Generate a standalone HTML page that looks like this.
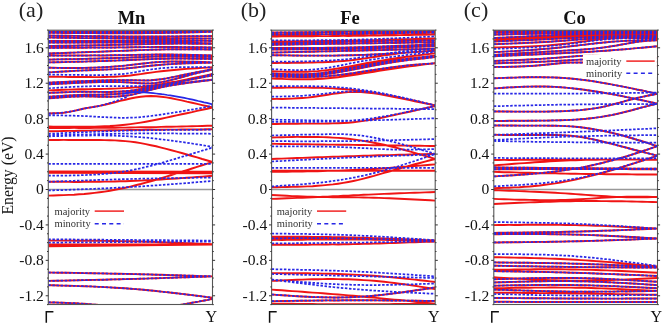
<!DOCTYPE html>
<html><head><meta charset="utf-8"><style>
html,body{margin:0;padding:0;background:#fff;}
body{width:664px;height:327px;overflow:hidden;}
svg{display:block;will-change:transform;}
text{font-family:"Liberation Serif",serif;}
</style></head><body>
<svg width="664" height="327" viewBox="0 0 664 327">
<rect width="664" height="327" fill="#fff"/>

<clipPath id="clipa"><rect x="48.3" y="30.2" width="164.2" height="274.3"/></clipPath>
<line x1="48.3" y1="189.50" x2="212.5" y2="189.50" stroke="#999" stroke-width="1.3"/>
<g clip-path="url(#clipa)" fill="none">
<path d="M48.3,31.5 L53.4,31.5 L58.6,31.5 L63.7,31.5 L68.8,31.5 L74.0,31.5 L79.1,31.5 L84.2,31.5 L89.3,31.5 L94.5,31.5 L99.6,31.5 L104.7,31.5 L109.9,31.5 L115.0,31.5 L120.1,31.4 L125.3,31.4 L130.4,31.4 L135.5,31.4 L140.7,31.3 L145.8,31.3 L150.9,31.3 L156.1,31.2 L161.2,31.2 L166.3,31.2 L171.4,31.1 L176.6,31.1 L181.7,31.0 L186.8,31.0 L192.0,31.0 L197.1,30.9 L202.2,30.9 L207.4,30.8 L212.5,30.8 M48.3,32.8 L53.4,32.8 L58.6,32.9 L63.7,32.9 L68.8,33.0 L74.0,33.0 L79.1,33.0 L84.2,33.1 L89.3,33.1 L94.5,33.1 L99.6,33.2 L104.7,33.2 L109.9,33.2 L115.0,33.2 L120.1,33.2 L125.3,33.2 L130.4,33.2 L135.5,33.2 L140.7,33.2 L145.8,33.1 L150.9,33.1 L156.1,33.0 L161.2,33.0 L166.3,32.9 L171.4,32.8 L176.6,32.7 L181.7,32.6 L186.8,32.5 L192.0,32.4 L197.1,32.2 L202.2,32.1 L207.4,31.9 L212.5,31.8 M48.3,35.5 L53.4,35.6 L58.6,35.7 L63.7,35.7 L68.8,35.8 L74.0,35.9 L79.1,36.0 L84.2,36.1 L89.3,36.1 L94.5,36.2 L99.6,36.2 L104.7,36.3 L109.9,36.4 L115.0,36.4 L120.1,36.4 L125.3,36.5 L130.4,36.5 L135.5,36.5 L140.7,36.5 L145.8,36.5 L150.9,36.5 L156.1,36.5 L161.2,36.5 L166.3,36.5 L171.4,36.4 L176.6,36.4 L181.7,36.3 L186.8,36.3 L192.0,36.2 L197.1,36.2 L202.2,36.1 L207.4,36.1 L212.5,36.0 M48.3,37.5 L53.4,37.6 L58.6,37.7 L63.7,37.8 L68.8,37.8 L74.0,37.9 L79.1,38.0 L84.2,38.1 L89.3,38.1 L94.5,38.2 L99.6,38.3 L104.7,38.3 L109.9,38.4 L115.0,38.4 L120.1,38.5 L125.3,38.5 L130.4,38.5 L135.5,38.5 L140.7,38.5 L145.8,38.5 L150.9,38.5 L156.1,38.5 L161.2,38.5 L166.3,38.5 L171.4,38.5 L176.6,38.5 L181.7,38.5 L186.8,38.5 L192.0,38.5 L197.1,38.5 L202.2,38.5 L207.4,38.5 L212.5,38.5 M48.3,41.0 L53.4,41.0 L58.6,41.0 L63.7,41.0 L68.8,41.0 L74.0,41.0 L79.1,41.0 L84.2,41.0 L89.3,41.0 L94.5,41.0 L99.6,41.0 L104.7,41.0 L109.9,41.0 L115.0,40.9 L120.1,40.9 L125.3,40.9 L130.4,40.8 L135.5,40.7 L140.7,40.7 L145.8,40.6 L150.9,40.6 L156.1,40.5 L161.2,40.5 L166.3,40.5 L171.4,40.5 L176.6,40.5 L181.7,40.6 L186.8,40.6 L192.0,40.7 L197.1,40.8 L202.2,40.8 L207.4,40.9 L212.5,41.0 M48.3,42.5 L53.4,42.5 L58.6,42.5 L63.7,42.5 L68.8,42.6 L74.0,42.6 L79.1,42.6 L84.2,42.6 L89.3,42.6 L94.5,42.6 L99.6,42.5 L104.7,42.5 L109.9,42.5 L115.0,42.5 L120.1,42.4 L125.3,42.4 L130.4,42.3 L135.5,42.2 L140.7,42.2 L145.8,42.1 L150.9,42.0 L156.1,42.0 L161.2,42.0 L166.3,42.0 L171.4,42.1 L176.6,42.2 L181.7,42.4 L186.8,42.5 L192.0,42.7 L197.1,42.9 L202.2,43.1 L207.4,43.3 L212.5,43.5 M48.3,46.0 L53.4,45.9 L58.6,45.8 L63.7,45.8 L68.8,45.7 L74.0,45.6 L79.1,45.5 L84.2,45.4 L89.3,45.4 L94.5,45.3 L99.6,45.2 L104.7,45.1 L109.9,45.0 L115.0,44.9 L120.1,44.7 L125.3,44.6 L130.4,44.5 L135.5,44.4 L140.7,44.2 L145.8,44.1 L150.9,44.0 L156.1,43.9 L161.2,43.8 L166.3,43.7 L171.4,43.7 L176.6,43.6 L181.7,43.6 L186.8,43.6 L192.0,43.7 L197.1,43.7 L202.2,43.7 L207.4,43.8 L212.5,43.8 M48.3,47.8 L53.4,47.8 L58.6,47.8 L63.7,47.7 L68.8,47.7 L74.0,47.7 L79.1,47.7 L84.2,47.7 L89.3,47.6 L94.5,47.6 L99.6,47.6 L104.7,47.5 L109.9,47.5 L115.0,47.5 L120.1,47.4 L125.3,47.4 L130.4,47.3 L135.5,47.2 L140.7,47.2 L145.8,47.1 L150.9,47.1 L156.1,47.0 L161.2,47.0 L166.3,47.0 L171.4,47.0 L176.6,47.0 L181.7,47.1 L186.8,47.1 L192.0,47.2 L197.1,47.3 L202.2,47.3 L207.4,47.4 L212.5,47.5 M48.3,53.5 L53.4,53.3 L58.6,53.1 L63.7,53.0 L68.8,52.8 L74.0,52.6 L79.1,52.4 L84.2,52.2 L89.3,52.0 L94.5,51.9 L99.6,51.7 L104.7,51.5 L109.9,51.3 L115.0,51.1 L120.1,50.9 L125.3,50.7 L130.4,50.5 L135.5,50.3 L140.7,50.1 L145.8,49.9 L150.9,49.7 L156.1,49.6 L161.2,49.5 L166.3,49.4 L171.4,49.3 L176.6,49.3 L181.7,49.3 L186.8,49.3 L192.0,49.3 L197.1,49.3 L202.2,49.4 L207.4,49.4 L212.5,49.5 M48.3,55.5 L53.4,55.5 L58.6,55.5 L63.7,55.5 L68.8,55.5 L74.0,55.5 L79.1,55.5 L84.2,55.5 L89.3,55.5 L94.5,55.4 L99.6,55.4 L104.7,55.4 L109.9,55.3 L115.0,55.2 L120.1,55.2 L125.3,55.1 L130.4,55.0 L135.5,54.9 L140.7,54.8 L145.8,54.7 L150.9,54.6 L156.1,54.5 L161.2,54.5 L166.3,54.5 L171.4,54.5 L176.6,54.6 L181.7,54.7 L186.8,54.8 L192.0,54.9 L197.1,55.0 L202.2,55.2 L207.4,55.3 L212.5,55.5 M48.3,59.6 L53.4,59.5 L58.6,59.4 L63.7,59.3 L68.8,59.2 L74.0,59.1 L79.1,59.0 L84.2,58.9 L89.3,58.7 L94.5,58.6 L99.6,58.5 L104.7,58.3 L109.9,58.2 L115.0,58.0 L120.1,57.9 L125.3,57.7 L130.4,57.5 L135.5,57.3 L140.7,57.1 L145.8,56.9 L150.9,56.7 L156.1,56.6 L161.2,56.5 L166.3,56.4 L171.4,56.4 L176.6,56.4 L181.7,56.4 L186.8,56.5 L192.0,56.6 L197.1,56.6 L202.2,56.8 L207.4,56.9 L212.5,57.0 M48.3,62.4 L53.4,62.3 L58.6,62.2 L63.7,62.1 L68.8,61.9 L74.0,61.8 L79.1,61.7 L84.2,61.6 L89.3,61.4 L94.5,61.3 L99.6,61.1 L104.7,61.0 L109.9,60.8 L115.0,60.6 L120.1,60.4 L125.3,60.2 L130.4,60.0 L135.5,59.8 L140.7,59.5 L145.8,59.3 L150.9,59.1 L156.1,58.9 L161.2,58.8 L166.3,58.7 L171.4,58.6 L176.6,58.6 L181.7,58.6 L186.8,58.6 L192.0,58.7 L197.1,58.7 L202.2,58.8 L207.4,58.9 L212.5,59.0 M48.3,67.7 L53.4,67.8 L58.6,67.9 L63.7,67.9 L68.8,68.0 L74.0,68.0 L79.1,68.0 L84.2,67.9 L89.3,67.8 L94.5,67.6 L99.6,67.4 L104.7,67.2 L109.9,66.9 L115.0,66.5 L120.1,66.1 L125.3,65.6 L130.4,65.0 L135.5,64.4 L140.7,63.8 L145.8,63.2 L150.9,62.6 L156.1,62.2 L161.2,61.9 L166.3,61.7 L171.4,61.5 L176.6,61.5 L181.7,61.5 L186.8,61.6 L192.0,61.7 L197.1,61.8 L202.2,62.0 L207.4,62.2 L212.5,62.4 M48.3,72.4 L53.4,72.1 L58.6,71.8 L63.7,71.5 L68.8,71.2 L74.0,70.9 L79.1,70.6 L84.2,70.4 L89.3,70.2 L94.5,70.0 L99.6,69.8 L104.7,69.6 L109.9,69.4 L115.0,69.1 L120.1,68.8 L125.3,68.5 L130.4,68.0 L135.5,67.5 L140.7,66.9 L145.8,66.3 L150.9,65.7 L156.1,65.2 L161.2,64.8 L166.3,64.4 L171.4,64.1 L176.6,63.8 L181.7,63.5 L186.8,63.3 L192.0,63.2 L197.1,63.0 L202.2,62.9 L207.4,62.7 L212.5,62.6 M48.3,76.8 L53.4,76.8 L58.6,76.8 L63.7,76.9 L68.8,76.9 L74.0,76.9 L79.1,77.0 L84.2,77.0 L89.3,77.0 L94.5,77.1 L99.6,77.1 L104.7,77.0 L109.9,76.9 L115.0,76.7 L120.1,76.4 L125.3,76.0 L130.4,75.5 L135.5,74.8 L140.7,74.1 L145.8,73.3 L150.9,72.6 L156.1,71.9 L161.2,71.3 L166.3,70.7 L171.4,70.2 L176.6,69.7 L181.7,69.3 L186.8,68.9 L192.0,68.6 L197.1,68.2 L202.2,67.9 L207.4,67.6 L212.5,67.3 M48.3,82.6 L53.4,82.4 L58.6,82.2 L63.7,82.0 L68.8,81.7 L74.0,81.5 L79.1,81.3 L84.2,81.1 L89.3,80.9 L94.5,80.7 L99.6,80.5 L104.7,80.4 L109.9,80.2 L115.0,80.2 L120.1,80.1 L125.3,80.1 L130.4,80.2 L135.5,80.3 L140.7,80.4 L145.8,80.4 L150.9,80.3 L156.1,79.8 L161.2,79.2 L166.3,78.4 L171.4,77.4 L176.6,76.4 L181.7,75.3 L186.8,74.2 L192.0,73.2 L197.1,72.2 L202.2,71.2 L207.4,70.2 L212.5,69.3 M48.3,84.4 L53.4,84.1 L58.6,83.8 L63.7,83.6 L68.8,83.3 L74.0,83.1 L79.1,82.8 L84.2,82.6 L89.3,82.4 L94.5,82.2 L99.6,82.1 L104.7,82.0 L109.9,82.0 L115.0,82.0 L120.1,82.1 L125.3,82.3 L130.4,82.6 L135.5,83.0 L140.7,83.3 L145.8,83.5 L150.9,83.4 L156.1,82.9 L161.2,82.1 L166.3,81.1 L171.4,79.9 L176.6,78.6 L181.7,77.2 L186.8,75.8 L192.0,74.4 L197.1,73.1 L202.2,71.9 L207.4,70.7 L212.5,69.5 M48.3,90.4 L53.4,90.2 L58.6,90.0 L63.7,89.8 L68.8,89.6 L74.0,89.5 L79.1,89.3 L84.2,89.2 L89.3,89.1 L94.5,89.0 L99.6,89.0 L104.7,88.9 L109.9,88.8 L115.0,88.6 L120.1,88.4 L125.3,88.1 L130.4,87.8 L135.5,87.4 L140.7,86.9 L145.8,86.3 L150.9,85.6 L156.1,84.9 L161.2,84.1 L166.3,83.2 L171.4,82.3 L176.6,81.4 L181.7,80.4 L186.8,79.4 L192.0,78.3 L197.1,77.3 L202.2,76.2 L207.4,75.1 L212.5,74.0 M48.3,92.9 L53.4,92.7 L58.6,92.5 L63.7,92.3 L68.8,92.1 L74.0,91.9 L79.1,91.8 L84.2,91.8 L89.3,91.8 L94.5,91.8 L99.6,91.9 L104.7,91.9 L109.9,91.9 L115.0,91.7 L120.1,91.5 L125.3,91.1 L130.4,90.6 L135.5,89.9 L140.7,89.0 L145.8,88.0 L150.9,87.0 L156.1,86.0 L161.2,85.1 L166.3,84.1 L171.4,83.1 L176.6,82.1 L181.7,81.2 L186.8,80.2 L192.0,79.3 L197.1,78.3 L202.2,77.4 L207.4,76.4 L212.5,75.5 M48.3,96.8 L53.4,96.4 L58.6,96.1 L63.7,95.8 L68.8,95.5 L74.0,95.2 L79.1,95.0 L84.2,94.8 L89.3,94.7 L94.5,94.6 L99.6,94.6 L104.7,94.5 L109.9,94.3 L115.0,94.1 L120.1,93.7 L125.3,93.2 L130.4,92.5 L135.5,91.6 L140.7,90.5 L145.8,89.4 L150.9,88.3 L156.1,87.3 L161.2,86.4 L166.3,85.5 L171.4,84.7 L176.6,83.9 L181.7,83.3 L186.8,82.6 L192.0,82.0 L197.1,81.4 L202.2,80.8 L207.4,80.3 L212.5,79.7 M48.3,98.4 L53.4,98.0 L58.6,97.6 L63.7,97.2 L68.8,96.9 L74.0,96.6 L79.1,96.5 L84.2,96.4 L89.3,96.4 L94.5,96.5 L99.6,96.7 L104.7,96.7 L109.9,96.8 L115.0,96.6 L120.1,96.3 L125.3,95.8 L130.4,95.0 L135.5,93.9 L140.7,92.6 L145.8,91.2 L150.9,89.8 L156.1,88.5 L161.2,87.4 L166.3,86.3 L171.4,85.4 L176.6,84.5 L181.7,83.7 L186.8,83.0 L192.0,82.3 L197.1,81.7 L202.2,81.1 L207.4,80.5 L212.5,79.9 M48.3,113.5 L53.4,113.3 L58.6,113.1 L63.7,112.7 L68.8,111.9 L74.0,110.9 L79.1,109.7 L84.2,108.5 L89.3,107.6 L94.5,106.8 L99.6,105.9 L104.7,104.8 L109.9,103.5 L115.0,102.2 L120.1,100.9 L125.3,99.7 L130.4,98.5 L135.5,97.5 L140.7,96.7 L145.8,96.3 L150.9,96.1 L156.1,96.3 L161.2,96.7 L166.3,97.4 L171.4,98.3 L176.6,99.4 L181.7,100.4 L186.8,101.6 L192.0,102.7 L197.1,103.9 L202.2,105.1 L207.4,106.3 L212.5,107.5 M48.3,126.5 L53.4,126.6 L58.6,126.6 L63.7,126.7 L68.8,126.8 L74.0,126.8 L79.1,126.8 L84.2,126.8 L89.3,126.7 L94.5,126.6 L99.6,126.4 L104.7,126.2 L109.9,126.0 L115.0,125.6 L120.1,125.2 L125.3,124.7 L130.4,124.1 L135.5,123.4 L140.7,122.6 L145.8,121.7 L150.9,120.7 L156.1,119.7 L161.2,118.7 L166.3,117.6 L171.4,116.5 L176.6,115.4 L181.7,114.3 L186.8,113.2 L192.0,112.1 L197.1,110.9 L202.2,109.8 L207.4,108.7 L212.5,107.6 M48.3,128.0 L53.4,128.0 L58.6,128.0 L63.7,128.0 L68.8,128.0 L74.0,127.9 L79.1,127.9 L84.2,127.9 L89.3,127.9 L94.5,127.8 L99.6,127.8 L104.7,127.8 L109.9,127.7 L115.0,127.7 L120.1,127.6 L125.3,127.6 L130.4,127.5 L135.5,127.4 L140.7,127.3 L145.8,127.3 L150.9,127.2 L156.1,127.1 L161.2,126.9 L166.3,126.8 L171.4,126.7 L176.6,126.6 L181.7,126.5 L186.8,126.4 L192.0,126.2 L197.1,126.1 L202.2,126.0 L207.4,125.8 L212.5,125.7 M48.3,131.3 L53.4,131.2 L58.6,131.1 L63.7,131.0 L68.8,130.9 L74.0,130.9 L79.1,130.8 L84.2,130.7 L89.3,130.6 L94.5,130.5 L99.6,130.4 L104.7,130.4 L109.9,130.3 L115.0,130.2 L120.1,130.1 L125.3,130.1 L130.4,130.0 L135.5,129.9 L140.7,129.9 L145.8,129.8 L150.9,129.8 L156.1,129.7 L161.2,129.7 L166.3,129.6 L171.4,129.6 L176.6,129.6 L181.7,129.5 L186.8,129.5 L192.0,129.4 L197.1,129.4 L202.2,129.4 L207.4,129.3 L212.5,129.3 M48.3,140.0 L53.4,140.0 L58.6,140.0 L63.7,139.9 L68.8,139.9 L74.0,139.9 L79.1,139.9 L84.2,139.9 L89.3,139.9 L94.5,140.0 L99.6,140.0 L104.7,140.1 L109.9,140.2 L115.0,140.4 L120.1,140.7 L125.3,141.1 L130.4,141.6 L135.5,142.3 L140.7,143.1 L145.8,144.1 L150.9,145.2 L156.1,146.3 L161.2,147.6 L166.3,148.9 L171.4,150.2 L176.6,151.6 L181.7,153.0 L186.8,154.5 L192.0,156.0 L197.1,157.4 L202.2,159.0 L207.4,160.5 L212.5,162.0 M48.3,171.5 L212.5,171.7 M48.3,172.9 L212.5,173.3 M48.3,181.8 L53.4,181.8 L58.6,181.8 L63.7,181.8 L68.8,181.9 L74.0,181.9 L79.1,181.9 L84.2,181.8 L89.3,181.8 L94.5,181.8 L99.6,181.7 L104.7,181.6 L109.9,181.6 L115.0,181.5 L120.1,181.3 L125.3,181.2 L130.4,181.0 L135.5,180.8 L140.7,180.6 L145.8,180.3 L150.9,180.1 L156.1,179.8 L161.2,179.5 L166.3,179.1 L171.4,178.8 L176.6,178.5 L181.7,178.1 L186.8,177.7 L192.0,177.4 L197.1,177.0 L202.2,176.6 L207.4,176.2 L212.5,175.8 M48.3,195.6 L53.4,195.5 L58.6,195.3 L63.7,195.1 L68.8,194.9 L74.0,194.7 L79.1,194.3 L84.2,194.0 L89.3,193.5 L94.5,192.9 L99.6,192.3 L104.7,191.6 L109.9,190.8 L115.0,189.8 L120.1,188.8 L125.3,187.8 L130.4,186.6 L135.5,185.3 L140.7,184.0 L145.8,182.6 L150.9,181.2 L156.1,179.7 L161.2,178.2 L166.3,176.6 L171.4,175.0 L176.6,173.4 L181.7,171.8 L186.8,170.2 L192.0,168.5 L197.1,166.9 L202.2,165.3 L207.4,163.6 L212.5,162.0 M48.3,240.6 L53.4,240.6 L58.6,240.6 L63.7,240.6 L68.8,240.6 L74.0,240.7 L79.1,240.7 L84.2,240.7 L89.3,240.7 L94.5,240.8 L99.6,240.8 L104.7,240.9 L109.9,240.9 L115.0,241.0 L120.1,241.1 L125.3,241.2 L130.4,241.3 L135.5,241.4 L140.7,241.5 L145.8,241.7 L150.9,241.8 L156.1,242.0 L161.2,242.2 L166.3,242.4 L171.4,242.5 L176.6,242.7 L181.7,242.9 L186.8,243.1 L192.0,243.3 L197.1,243.6 L202.2,243.8 L207.4,244.0 L212.5,244.2 M48.3,244.5 L212.5,244.2 M48.3,246.2 L212.5,244.6 M48.3,272.5 L53.4,272.6 L58.6,272.7 L63.7,272.7 L68.8,272.8 L74.0,272.9 L79.1,273.0 L84.2,273.1 L89.3,273.2 L94.5,273.3 L99.6,273.4 L104.7,273.4 L109.9,273.6 L115.0,273.7 L120.1,273.8 L125.3,273.9 L130.4,274.0 L135.5,274.1 L140.7,274.3 L145.8,274.4 L150.9,274.5 L156.1,274.7 L161.2,274.8 L166.3,275.0 L171.4,275.1 L176.6,275.3 L181.7,275.4 L186.8,275.6 L192.0,275.7 L197.1,275.9 L202.2,276.1 L207.4,276.2 L212.5,276.4 M48.3,280.9 L53.4,280.8 L58.6,280.7 L63.7,280.6 L68.8,280.5 L74.0,280.4 L79.1,280.2 L84.2,280.1 L89.3,280.0 L94.5,279.9 L99.6,279.8 L104.7,279.7 L109.9,279.5 L115.0,279.4 L120.1,279.3 L125.3,279.1 L130.4,279.0 L135.5,278.9 L140.7,278.7 L145.8,278.6 L150.9,278.4 L156.1,278.3 L161.2,278.1 L166.3,277.9 L171.4,277.8 L176.6,277.6 L181.7,277.4 L186.8,277.3 L192.0,277.1 L197.1,276.9 L202.2,276.7 L207.4,276.6 L212.5,276.4 M48.3,285.2 L53.4,285.3 L58.6,285.5 L63.7,285.6 L68.8,285.8 L74.0,285.9 L79.1,286.1 L84.2,286.2 L89.3,286.4 L94.5,286.6 L99.6,286.9 L104.7,287.1 L109.9,287.4 L115.0,287.7 L120.1,288.0 L125.3,288.3 L130.4,288.7 L135.5,289.1 L140.7,289.5 L145.8,290.0 L150.9,290.5 L156.1,291.0 L161.2,291.6 L166.3,292.1 L171.4,292.7 L176.6,293.3 L181.7,293.9 L186.8,294.5 L192.0,295.1 L197.1,295.8 L202.2,296.4 L207.4,297.1 L212.5,297.7 M48.3,302.3 L50.9,302.4 L53.4,302.4 L56.0,302.5 L58.6,302.6 L61.1,302.7 L63.7,302.8 L66.3,302.9 L68.8,303.0 L71.4,303.1 L74.0,303.2 L76.5,303.3 L79.1,303.5 L81.7,303.6 L84.2,303.8 L86.8,304.0 L89.3,304.2 L91.9,304.4 L94.5,304.6 L97.0,304.8 L99.6,305.1 L102.2,305.3 L104.7,305.6 L107.3,305.9 L109.9,306.2 L112.4,306.6 L115.0,306.9 L117.6,307.2 L120.1,307.6 L122.7,307.9 L125.3,308.3 L127.8,308.6 L130.4,309.0 M138.6,312.0 L140.9,311.6 L143.2,311.2 L145.5,310.8 L147.8,310.5 L150.2,310.1 L152.5,309.7 L154.8,309.3 L157.1,308.9 L159.4,308.5 L161.7,308.1 L164.0,307.7 L166.3,307.3 L168.6,306.9 L170.9,306.5 L173.2,306.1 L175.6,305.7 L177.9,305.3 L180.2,304.9 L182.5,304.5 L184.8,304.1 L187.1,303.7 L189.4,303.3 L191.7,302.8 L194.0,302.4 L196.3,302.0 L198.6,301.6 L201.0,301.1 L203.3,300.7 L205.6,300.3 L207.9,299.9 L210.2,299.4 L212.5,299.0" stroke="#f01414" stroke-width="1.95"/>
<path d="M48.3,31.5 L53.4,31.5 L58.6,31.5 L63.7,31.5 L68.8,31.5 L74.0,31.5 L79.1,31.5 L84.2,31.5 L89.3,31.5 L94.5,31.5 L99.6,31.5 L104.7,31.5 L109.9,31.5 L115.0,31.5 L120.1,31.4 L125.3,31.4 L130.4,31.4 L135.5,31.4 L140.7,31.3 L145.8,31.3 L150.9,31.3 L156.1,31.2 L161.2,31.2 L166.3,31.2 L171.4,31.1 L176.6,31.1 L181.7,31.0 L186.8,31.0 L192.0,31.0 L197.1,30.9 L202.2,30.9 L207.4,30.8 L212.5,30.8 M48.3,32.8 L53.4,32.8 L58.6,32.9 L63.7,32.9 L68.8,33.0 L74.0,33.0 L79.1,33.0 L84.2,33.1 L89.3,33.1 L94.5,33.1 L99.6,33.2 L104.7,33.2 L109.9,33.2 L115.0,33.2 L120.1,33.2 L125.3,33.2 L130.4,33.2 L135.5,33.2 L140.7,33.2 L145.8,33.1 L150.9,33.1 L156.1,33.0 L161.2,33.0 L166.3,32.9 L171.4,32.8 L176.6,32.7 L181.7,32.6 L186.8,32.5 L192.0,32.4 L197.1,32.2 L202.2,32.1 L207.4,31.9 L212.5,31.8 M48.3,35.5 L53.4,35.6 L58.6,35.7 L63.7,35.7 L68.8,35.8 L74.0,35.9 L79.1,36.0 L84.2,36.1 L89.3,36.1 L94.5,36.2 L99.6,36.2 L104.7,36.3 L109.9,36.4 L115.0,36.4 L120.1,36.4 L125.3,36.5 L130.4,36.5 L135.5,36.5 L140.7,36.5 L145.8,36.5 L150.9,36.5 L156.1,36.5 L161.2,36.5 L166.3,36.5 L171.4,36.4 L176.6,36.4 L181.7,36.3 L186.8,36.3 L192.0,36.2 L197.1,36.2 L202.2,36.1 L207.4,36.1 L212.5,36.0 M48.3,37.5 L53.4,37.6 L58.6,37.7 L63.7,37.8 L68.8,37.8 L74.0,37.9 L79.1,38.0 L84.2,38.1 L89.3,38.1 L94.5,38.2 L99.6,38.3 L104.7,38.3 L109.9,38.4 L115.0,38.4 L120.1,38.5 L125.3,38.5 L130.4,38.5 L135.5,38.5 L140.7,38.5 L145.8,38.5 L150.9,38.5 L156.1,38.5 L161.2,38.5 L166.3,38.5 L171.4,38.5 L176.6,38.5 L181.7,38.5 L186.8,38.5 L192.0,38.5 L197.1,38.5 L202.2,38.5 L207.4,38.5 L212.5,38.5 M48.3,41.0 L53.4,41.0 L58.6,41.0 L63.7,41.0 L68.8,41.0 L74.0,41.0 L79.1,41.0 L84.2,41.0 L89.3,41.0 L94.5,41.0 L99.6,41.0 L104.7,41.0 L109.9,41.0 L115.0,40.9 L120.1,40.9 L125.3,40.9 L130.4,40.8 L135.5,40.7 L140.7,40.7 L145.8,40.6 L150.9,40.6 L156.1,40.5 L161.2,40.5 L166.3,40.5 L171.4,40.5 L176.6,40.5 L181.7,40.6 L186.8,40.6 L192.0,40.7 L197.1,40.8 L202.2,40.8 L207.4,40.9 L212.5,41.0 M48.3,42.5 L53.4,42.5 L58.6,42.5 L63.7,42.5 L68.8,42.6 L74.0,42.6 L79.1,42.6 L84.2,42.6 L89.3,42.6 L94.5,42.6 L99.6,42.5 L104.7,42.5 L109.9,42.5 L115.0,42.5 L120.1,42.4 L125.3,42.4 L130.4,42.3 L135.5,42.2 L140.7,42.2 L145.8,42.1 L150.9,42.0 L156.1,42.0 L161.2,42.0 L166.3,42.0 L171.4,42.1 L176.6,42.2 L181.7,42.4 L186.8,42.5 L192.0,42.7 L197.1,42.9 L202.2,43.1 L207.4,43.3 L212.5,43.5 M48.3,46.0 L53.4,45.9 L58.6,45.8 L63.7,45.8 L68.8,45.7 L74.0,45.6 L79.1,45.5 L84.2,45.4 L89.3,45.4 L94.5,45.3 L99.6,45.2 L104.7,45.1 L109.9,45.0 L115.0,44.9 L120.1,44.7 L125.3,44.6 L130.4,44.5 L135.5,44.4 L140.7,44.2 L145.8,44.1 L150.9,44.0 L156.1,43.9 L161.2,43.8 L166.3,43.7 L171.4,43.7 L176.6,43.6 L181.7,43.6 L186.8,43.6 L192.0,43.7 L197.1,43.7 L202.2,43.7 L207.4,43.8 L212.5,43.8 M48.3,47.8 L53.4,47.8 L58.6,47.8 L63.7,47.7 L68.8,47.7 L74.0,47.7 L79.1,47.7 L84.2,47.7 L89.3,47.6 L94.5,47.6 L99.6,47.6 L104.7,47.5 L109.9,47.5 L115.0,47.5 L120.1,47.4 L125.3,47.4 L130.4,47.3 L135.5,47.2 L140.7,47.2 L145.8,47.1 L150.9,47.1 L156.1,47.0 L161.2,47.0 L166.3,47.0 L171.4,47.0 L176.6,47.0 L181.7,47.1 L186.8,47.1 L192.0,47.2 L197.1,47.3 L202.2,47.3 L207.4,47.4 L212.5,47.5 M48.3,53.5 L53.4,53.3 L58.6,53.1 L63.7,53.0 L68.8,52.8 L74.0,52.6 L79.1,52.4 L84.2,52.2 L89.3,52.0 L94.5,51.9 L99.6,51.7 L104.7,51.5 L109.9,51.3 L115.0,51.1 L120.1,50.9 L125.3,50.7 L130.4,50.5 L135.5,50.3 L140.7,50.1 L145.8,49.9 L150.9,49.7 L156.1,49.6 L161.2,49.5 L166.3,49.4 L171.4,49.3 L176.6,49.3 L181.7,49.3 L186.8,49.3 L192.0,49.3 L197.1,49.3 L202.2,49.4 L207.4,49.4 L212.5,49.5 M48.3,55.5 L53.4,55.5 L58.6,55.5 L63.7,55.5 L68.8,55.5 L74.0,55.5 L79.1,55.5 L84.2,55.5 L89.3,55.5 L94.5,55.4 L99.6,55.4 L104.7,55.4 L109.9,55.3 L115.0,55.2 L120.1,55.2 L125.3,55.1 L130.4,55.0 L135.5,54.9 L140.7,54.8 L145.8,54.7 L150.9,54.6 L156.1,54.5 L161.2,54.5 L166.3,54.5 L171.4,54.5 L176.6,54.6 L181.7,54.7 L186.8,54.8 L192.0,54.9 L197.1,55.0 L202.2,55.2 L207.4,55.3 L212.5,55.5 M48.3,59.6 L53.4,59.5 L58.6,59.4 L63.7,59.3 L68.8,59.2 L74.0,59.1 L79.1,59.0 L84.2,58.9 L89.3,58.7 L94.5,58.6 L99.6,58.5 L104.7,58.3 L109.9,58.2 L115.0,58.0 L120.1,57.9 L125.3,57.7 L130.4,57.5 L135.5,57.3 L140.7,57.1 L145.8,56.9 L150.9,56.7 L156.1,56.6 L161.2,56.5 L166.3,56.4 L171.4,56.4 L176.6,56.4 L181.7,56.4 L186.8,56.5 L192.0,56.6 L197.1,56.6 L202.2,56.8 L207.4,56.9 L212.5,57.0 M48.3,62.4 L53.4,62.3 L58.6,62.2 L63.7,62.1 L68.8,61.9 L74.0,61.8 L79.1,61.7 L84.2,61.6 L89.3,61.4 L94.5,61.3 L99.6,61.1 L104.7,61.0 L109.9,60.8 L115.0,60.6 L120.1,60.4 L125.3,60.2 L130.4,60.0 L135.5,59.8 L140.7,59.5 L145.8,59.3 L150.9,59.1 L156.1,58.9 L161.2,58.8 L166.3,58.7 L171.4,58.6 L176.6,58.6 L181.7,58.6 L186.8,58.6 L192.0,58.7 L197.1,58.7 L202.2,58.8 L207.4,58.9 L212.5,59.0 M48.3,67.7 L53.4,67.8 L58.6,67.9 L63.7,67.9 L68.8,68.0 L74.0,68.0 L79.1,68.0 L84.2,67.9 L89.3,67.8 L94.5,67.6 L99.6,67.4 L104.7,67.2 L109.9,66.9 L115.0,66.5 L120.1,66.1 L125.3,65.6 L130.4,65.0 L135.5,64.4 L140.7,63.8 L145.8,63.2 L150.9,62.6 L156.1,62.2 L161.2,61.9 L166.3,61.7 L171.4,61.5 L176.6,61.5 L181.7,61.5 L186.8,61.6 L192.0,61.7 L197.1,61.8 L202.2,62.0 L207.4,62.2 L212.5,62.4 M48.3,72.4 L53.4,72.1 L58.6,71.8 L63.7,71.5 L68.8,71.2 L74.0,70.9 L79.1,70.6 L84.2,70.4 L89.3,70.2 L94.5,70.0 L99.6,69.8 L104.7,69.6 L109.9,69.4 L115.0,69.1 L120.1,68.8 L125.3,68.5 L130.4,68.0 L135.5,67.5 L140.7,66.9 L145.8,66.3 L150.9,65.7 L156.1,65.2 L161.2,64.8 L166.3,64.4 L171.4,64.1 L176.6,63.8 L181.7,63.5 L186.8,63.3 L192.0,63.2 L197.1,63.0 L202.2,62.9 L207.4,62.7 L212.5,62.6 M48.3,74.6 L53.4,74.7 L58.6,74.7 L63.7,74.8 L68.8,74.8 L74.0,74.9 L79.1,74.9 L84.2,75.0 L89.3,75.0 L94.5,75.1 L99.6,75.1 L104.7,75.0 L109.9,74.8 L115.0,74.6 L120.1,74.2 L125.3,73.7 L130.4,73.0 L135.5,72.2 L140.7,71.2 L145.8,70.3 L150.9,69.5 L156.1,68.8 L161.2,68.2 L166.3,67.8 L171.4,67.4 L176.6,67.2 L181.7,67.0 L186.8,67.0 L192.0,67.0 L197.1,67.0 L202.2,67.1 L207.4,67.2 L212.5,67.3 M48.3,82.6 L53.4,82.4 L58.6,82.2 L63.7,82.0 L68.8,81.7 L74.0,81.5 L79.1,81.3 L84.2,81.1 L89.3,80.9 L94.5,80.7 L99.6,80.5 L104.7,80.4 L109.9,80.2 L115.0,80.2 L120.1,80.1 L125.3,80.1 L130.4,80.2 L135.5,80.3 L140.7,80.4 L145.8,80.4 L150.9,80.3 L156.1,79.8 L161.2,79.2 L166.3,78.4 L171.4,77.4 L176.6,76.4 L181.7,75.3 L186.8,74.2 L192.0,73.2 L197.1,72.2 L202.2,71.2 L207.4,70.2 L212.5,69.3 M48.3,84.4 L53.4,84.1 L58.6,83.8 L63.7,83.6 L68.8,83.3 L74.0,83.1 L79.1,82.8 L84.2,82.6 L89.3,82.4 L94.5,82.2 L99.6,82.1 L104.7,82.0 L109.9,82.0 L115.0,82.0 L120.1,82.1 L125.3,82.3 L130.4,82.6 L135.5,83.0 L140.7,83.3 L145.8,83.5 L150.9,83.4 L156.1,82.9 L161.2,82.1 L166.3,81.1 L171.4,79.9 L176.6,78.6 L181.7,77.2 L186.8,75.8 L192.0,74.4 L197.1,73.1 L202.2,71.9 L207.4,70.7 L212.5,69.5 M48.3,88.3 L53.4,88.0 L58.6,87.7 L63.7,87.4 L68.8,87.1 L74.0,86.8 L79.1,86.6 L84.2,86.4 L89.3,86.3 L94.5,86.1 L99.6,86.1 L104.7,86.0 L109.9,86.0 L115.0,86.0 L120.1,86.0 L125.3,86.0 L130.4,86.0 L135.5,86.0 L140.7,86.0 L145.8,85.9 L150.9,85.7 L156.1,85.3 L161.2,84.7 L166.3,84.0 L171.4,83.2 L176.6,82.3 L181.7,81.3 L186.8,80.2 L192.0,79.0 L197.1,77.8 L202.2,76.6 L207.4,75.3 L212.5,74.0 M48.3,92.9 L53.4,92.7 L58.6,92.5 L63.7,92.3 L68.8,92.1 L74.0,91.9 L79.1,91.8 L84.2,91.8 L89.3,91.8 L94.5,91.8 L99.6,91.9 L104.7,91.9 L109.9,91.9 L115.0,91.7 L120.1,91.5 L125.3,91.1 L130.4,90.6 L135.5,89.9 L140.7,89.0 L145.8,88.0 L150.9,87.0 L156.1,86.0 L161.2,85.1 L166.3,84.1 L171.4,83.1 L176.6,82.1 L181.7,81.2 L186.8,80.2 L192.0,79.3 L197.1,78.3 L202.2,77.4 L207.4,76.4 L212.5,75.5 M48.3,96.8 L53.4,96.4 L58.6,96.1 L63.7,95.8 L68.8,95.5 L74.0,95.2 L79.1,95.0 L84.2,94.8 L89.3,94.7 L94.5,94.6 L99.6,94.6 L104.7,94.5 L109.9,94.3 L115.0,94.1 L120.1,93.7 L125.3,93.2 L130.4,92.5 L135.5,91.6 L140.7,90.5 L145.8,89.4 L150.9,88.3 L156.1,87.3 L161.2,86.4 L166.3,85.5 L171.4,84.7 L176.6,83.9 L181.7,83.3 L186.8,82.6 L192.0,82.0 L197.1,81.4 L202.2,80.8 L207.4,80.3 L212.5,79.7 M48.3,98.4 L53.4,98.0 L58.6,97.6 L63.7,97.2 L68.8,96.9 L74.0,96.6 L79.1,96.5 L84.2,96.4 L89.3,96.4 L94.5,96.5 L99.6,96.7 L104.7,96.7 L109.9,96.8 L115.0,96.6 L120.1,96.3 L125.3,95.8 L130.4,95.0 L135.5,93.9 L140.7,92.6 L145.8,91.2 L150.9,89.8 L156.1,88.5 L161.2,87.4 L166.3,86.3 L171.4,85.4 L176.6,84.5 L181.7,83.7 L186.8,83.0 L192.0,82.3 L197.1,81.7 L202.2,81.1 L207.4,80.5 L212.5,79.9 M48.3,113.5 L50.8,113.4 L53.2,113.4 L55.7,113.3 L58.2,113.1 L60.6,112.9 L63.1,112.7 L65.5,112.4 L68.0,112.1 L70.5,111.6 L72.9,111.1 L75.4,110.6 L77.9,110.0 L80.3,109.4 L82.8,108.8 L85.2,108.3 L87.7,107.9 L90.2,107.5 L92.6,107.2 L95.1,106.7 L97.6,106.3 L100.0,105.7 L102.5,105.1 L104.9,104.5 L107.4,103.8 L109.9,103.0 L112.3,102.3 L114.8,101.4 L117.3,100.6 L119.7,99.7 L122.2,98.8 L124.7,97.9 L127.1,97.0 M48.3,115.3 L53.4,115.4 L58.6,115.4 L63.7,115.5 L68.8,115.6 L74.0,115.7 L79.1,115.9 L84.2,116.1 L89.3,116.3 L94.5,116.6 L99.6,116.9 L104.7,117.2 L109.9,117.4 L115.0,117.6 L120.1,117.8 L125.3,117.8 L130.4,117.7 L135.5,117.5 L140.7,117.1 L145.8,116.6 L150.9,116.0 L156.1,115.3 L161.2,114.6 L166.3,113.8 L171.4,113.0 L176.6,112.2 L181.7,111.3 L186.8,110.4 L192.0,109.6 L197.1,108.7 L202.2,107.8 L207.4,106.9 L212.5,106.0 M48.3,133.8 L53.4,133.6 L58.6,133.3 L63.7,133.1 L68.8,132.9 L74.0,132.6 L79.1,132.4 L84.2,132.2 L89.3,132.0 L94.5,131.8 L99.6,131.6 L104.7,131.4 L109.9,131.2 L115.0,131.0 L120.1,130.9 L125.3,130.7 L130.4,130.6 L135.5,130.5 L140.7,130.4 L145.8,130.3 L150.9,130.2 L156.1,130.1 L161.2,130.0 L166.3,130.0 L171.4,129.9 L176.6,129.9 L181.7,129.9 L186.8,129.8 L192.0,129.8 L197.1,129.8 L202.2,129.7 L207.4,129.7 L212.5,129.7 M48.3,135.5 L53.4,135.3 L58.6,135.2 L63.7,135.0 L68.8,134.9 L74.0,134.7 L79.1,134.6 L84.2,134.4 L89.3,134.3 L94.5,134.2 L99.6,134.0 L104.7,133.9 L109.9,133.8 L115.0,133.7 L120.1,133.6 L125.3,133.6 L130.4,133.5 L135.5,133.5 L140.7,133.4 L145.8,133.4 L150.9,133.4 L156.1,133.4 L161.2,133.4 L166.3,133.4 L171.4,133.4 L176.6,133.5 L181.7,133.5 L186.8,133.5 L192.0,133.6 L197.1,133.6 L202.2,133.7 L207.4,133.7 L212.5,133.8 M48.3,136.4 L53.4,136.2 L58.6,136.1 L63.7,135.9 L68.8,135.8 L74.0,135.7 L79.1,135.6 L84.2,135.5 L89.3,135.5 L94.5,135.4 L99.6,135.4 L104.7,135.5 L109.9,135.6 L115.0,135.7 L120.1,135.9 L125.3,136.2 L130.4,136.4 L135.5,136.8 L140.7,137.2 L145.8,137.6 L150.9,138.1 L156.1,138.7 L161.2,139.3 L166.3,139.9 L171.4,140.6 L176.6,141.3 L181.7,142.0 L186.8,142.7 L192.0,143.5 L197.1,144.3 L202.2,145.1 L207.4,146.0 L212.5,146.8 M48.3,163.9 L212.5,163.9 M48.3,175.6 L53.4,175.6 L58.6,175.6 L63.7,175.5 L68.8,175.5 L74.0,175.4 L79.1,175.3 L84.2,175.1 L89.3,174.9 L94.5,174.6 L99.6,174.3 L104.7,173.9 L109.9,173.4 L115.0,172.8 L120.1,172.1 L125.3,171.3 L130.4,170.4 L135.5,169.4 L140.7,168.3 L145.8,167.0 L150.9,165.8 L156.1,164.4 L161.2,163.0 L166.3,161.5 L171.4,160.0 L176.6,158.5 L181.7,156.9 L186.8,155.4 L192.0,153.8 L197.1,152.3 L202.2,150.7 L207.4,149.1 L212.5,147.5 M48.3,181.8 L53.4,181.6 L58.6,181.4 L63.7,181.2 L68.8,181.0 L74.0,180.8 L79.1,180.6 L84.2,180.5 L89.3,180.3 L94.5,180.1 L99.6,179.9 L104.7,179.8 L109.9,179.6 L115.0,179.4 L120.1,179.3 L125.3,179.1 L130.4,179.0 L135.5,178.9 L140.7,178.7 L145.8,178.6 L150.9,178.5 L156.1,178.4 L161.2,178.3 L166.3,178.2 L171.4,178.1 L176.6,178.0 L181.7,178.0 L186.8,177.9 L192.0,177.8 L197.1,177.7 L202.2,177.6 L207.4,177.6 L212.5,177.5 M48.3,190.5 L53.4,190.3 L58.6,190.1 L63.7,190.0 L68.8,189.8 L74.0,189.6 L79.1,189.4 L84.2,189.2 L89.3,189.0 L94.5,188.8 L99.6,188.6 L104.7,188.3 L109.9,188.1 L115.0,187.8 L120.1,187.6 L125.3,187.3 L130.4,187.0 L135.5,186.7 L140.7,186.4 L145.8,186.0 L150.9,185.7 L156.1,185.4 L161.2,185.0 L166.3,184.6 L171.4,184.2 L176.6,183.8 L181.7,183.5 L186.8,183.1 L192.0,182.6 L197.1,182.2 L202.2,181.8 L207.4,181.4 L212.5,181.0 M48.3,239.3 L212.5,240.6 M48.3,242.6 L212.5,241.5 M48.3,272.5 L53.4,272.6 L58.6,272.7 L63.7,272.7 L68.8,272.8 L74.0,272.9 L79.1,273.0 L84.2,273.1 L89.3,273.2 L94.5,273.3 L99.6,273.4 L104.7,273.4 L109.9,273.6 L115.0,273.7 L120.1,273.8 L125.3,273.9 L130.4,274.0 L135.5,274.1 L140.7,274.3 L145.8,274.4 L150.9,274.5 L156.1,274.7 L161.2,274.8 L166.3,275.0 L171.4,275.1 L176.6,275.3 L181.7,275.4 L186.8,275.6 L192.0,275.7 L197.1,275.9 L202.2,276.1 L207.4,276.2 L212.5,276.4 M48.3,280.9 L53.4,280.8 L58.6,280.7 L63.7,280.6 L68.8,280.5 L74.0,280.4 L79.1,280.2 L84.2,280.1 L89.3,280.0 L94.5,279.9 L99.6,279.8 L104.7,279.7 L109.9,279.5 L115.0,279.4 L120.1,279.3 L125.3,279.1 L130.4,279.0 L135.5,278.9 L140.7,278.7 L145.8,278.6 L150.9,278.4 L156.1,278.3 L161.2,278.1 L166.3,277.9 L171.4,277.8 L176.6,277.6 L181.7,277.4 L186.8,277.3 L192.0,277.1 L197.1,276.9 L202.2,276.7 L207.4,276.6 L212.5,276.4 M48.3,285.2 L53.4,285.3 L58.6,285.5 L63.7,285.6 L68.8,285.8 L74.0,285.9 L79.1,286.1 L84.2,286.2 L89.3,286.4 L94.5,286.6 L99.6,286.9 L104.7,287.1 L109.9,287.4 L115.0,287.7 L120.1,288.0 L125.3,288.3 L130.4,288.7 L135.5,289.1 L140.7,289.5 L145.8,290.0 L150.9,290.5 L156.1,291.0 L161.2,291.6 L166.3,292.1 L171.4,292.7 L176.6,293.3 L181.7,293.9 L186.8,294.5 L192.0,295.1 L197.1,295.8 L202.2,296.4 L207.4,297.1 L212.5,297.7 M48.3,302.3 L50.9,302.4 L53.4,302.4 L56.0,302.5 L58.6,302.6 L61.1,302.7 L63.7,302.8 L66.3,302.9 L68.8,303.0 L71.4,303.1 L74.0,303.2 L76.5,303.3 L79.1,303.5 L81.7,303.6 L84.2,303.8 L86.8,304.0 L89.3,304.2 L91.9,304.4 L94.5,304.6 L97.0,304.8 L99.6,305.1 L102.2,305.3 L104.7,305.6 L107.3,305.9 L109.9,306.2 L112.4,306.6 L115.0,306.9 L117.6,307.2 L120.1,307.6 L122.7,307.9 L125.3,308.3 L127.8,308.6 L130.4,309.0 M138.6,312.0 L140.9,311.6 L143.2,311.2 L145.5,310.8 L147.8,310.5 L150.2,310.1 L152.5,309.7 L154.8,309.3 L157.1,308.9 L159.4,308.5 L161.7,308.1 L164.0,307.7 L166.3,307.3 L168.6,306.9 L170.9,306.5 L173.2,306.1 L175.6,305.7 L177.9,305.3 L180.2,304.9 L182.5,304.5 L184.8,304.1 L187.1,303.7 L189.4,303.3 L191.7,302.8 L194.0,302.4 L196.3,302.0 L198.6,301.6 L201.0,301.1 L203.3,300.7 L205.6,300.3 L207.9,299.9 L210.2,299.4 L212.5,299.0" stroke="#2828e6" stroke-width="1.75" stroke-dasharray="2.5 1.6"/>
<path d="M122.2,94.0 L125.0,93.4 L127.8,92.9 L130.7,92.5 L133.5,92.2 L136.3,92.1 L139.1,92.1 L141.9,92.3 L144.8,92.4 L147.6,92.7 L150.4,92.9 L153.2,93.2 L156.1,93.5 L158.9,93.8 L161.7,94.2 L164.5,94.5 L167.3,95.0 L170.2,95.4 L173.0,95.8 L175.8,96.3 L178.6,96.8 L181.5,97.3 L184.3,97.9 L187.1,98.5 L189.9,99.1 L192.7,99.7 L195.6,100.3 L198.4,101.0 L201.2,101.6 L204.0,102.3 L206.9,102.9 L209.7,103.6 L212.5,104.3" stroke="#2828e6" stroke-width="1.75"/>
</g>
<rect x="48.3" y="30.2" width="164.2" height="274.3" fill="none" stroke="#555" stroke-width="1.1"/>
<path d="M47.00,304.63H48.30M212.50,304.63H213.80M45.70,295.77H48.30M212.50,295.77H215.10M47.00,286.92H48.30M212.50,286.92H213.80M47.00,278.06H48.30M212.50,278.06H213.80M47.00,269.20H48.30M212.50,269.20H213.80M45.70,260.35H48.30M212.50,260.35H215.10M47.00,251.49H48.30M212.50,251.49H213.80M47.00,242.64H48.30M212.50,242.64H213.80M47.00,233.78H48.30M212.50,233.78H213.80M45.70,224.92H48.30M212.50,224.92H215.10M47.00,216.07H48.30M212.50,216.07H213.80M47.00,207.21H48.30M212.50,207.21H213.80M47.00,198.36H48.30M212.50,198.36H213.80M45.70,189.50H48.30M212.50,189.50H215.10M47.00,180.64H48.30M212.50,180.64H213.80M47.00,171.79H48.30M212.50,171.79H213.80M47.00,162.93H48.30M212.50,162.93H213.80M45.70,154.08H48.30M212.50,154.08H215.10M47.00,145.22H48.30M212.50,145.22H213.80M47.00,136.36H48.30M212.50,136.36H213.80M47.00,127.51H48.30M212.50,127.51H213.80M45.70,118.65H48.30M212.50,118.65H215.10M47.00,109.80H48.30M212.50,109.80H213.80M47.00,100.94H48.30M212.50,100.94H213.80M47.00,92.08H48.30M212.50,92.08H213.80M45.70,83.23H48.30M212.50,83.23H215.10M47.00,74.37H48.30M212.50,74.37H213.80M47.00,65.52H48.30M212.50,65.52H213.80M47.00,56.66H48.30M212.50,56.66H213.80M45.70,47.80H48.30M212.50,47.80H215.10M47.00,38.95H48.30M212.50,38.95H213.80M47.00,30.09H48.30M212.50,30.09H213.80" stroke="#333" stroke-width="1"/>
<text x="43.9" y="300.7" font-size="15.6" text-anchor="end" fill="#111">-1.2</text>
<text x="43.9" y="265.2" font-size="15.6" text-anchor="end" fill="#111">-0.8</text>
<text x="43.9" y="229.8" font-size="15.6" text-anchor="end" fill="#111">-0.4</text>
<text x="43.9" y="194.4" font-size="15.6" text-anchor="end" fill="#111">0</text>
<text x="43.9" y="159.0" font-size="15.6" text-anchor="end" fill="#111">0.4</text>
<text x="43.9" y="123.6" font-size="15.6" text-anchor="end" fill="#111">0.8</text>
<text x="43.9" y="88.1" font-size="15.6" text-anchor="end" fill="#111">1.2</text>
<text x="43.9" y="52.7" font-size="15.6" text-anchor="end" fill="#111">1.6</text>
<path d="M46.30,322.8 V311.8 H53.40" fill="none" stroke="#111" stroke-width="1.5"/>
<text x="211.2" y="321.8" font-size="16" text-anchor="middle" fill="#111">Y</text>
<text x="131.5" y="23.8" font-size="18.5" font-weight="bold" text-anchor="middle" fill="#111">Mn</text>
<text x="18.8" y="16.9" font-size="22" fill="#222">(a)</text>
<clipPath id="clipb"><rect x="271.6" y="30.2" width="163.59999999999997" height="274.3"/></clipPath>
<line x1="271.6" y1="189.50" x2="435.2" y2="189.50" stroke="#999" stroke-width="1.3"/>
<g clip-path="url(#clipb)" fill="none">
<path d="M271.6,32.5 L276.7,32.5 L281.8,32.4 L286.9,32.4 L292.1,32.4 L297.2,32.3 L302.3,32.3 L307.4,32.2 L312.5,32.2 L317.6,32.2 L322.7,32.1 L327.8,32.1 L332.9,32.1 L338.1,32.0 L343.2,32.0 L348.3,31.9 L353.4,31.9 L358.5,31.9 L363.6,31.8 L368.7,31.8 L373.9,31.7 L379.0,31.7 L384.1,31.6 L389.2,31.6 L394.3,31.6 L399.4,31.5 L404.5,31.5 L409.6,31.4 L414.8,31.4 L419.9,31.3 L425.0,31.3 L430.1,31.2 L435.2,31.2 M271.6,34.5 L276.7,34.5 L281.8,34.4 L286.9,34.4 L292.1,34.4 L297.2,34.3 L302.3,34.3 L307.4,34.2 L312.5,34.2 L317.6,34.2 L322.7,34.1 L327.8,34.1 L332.9,34.0 L338.1,34.0 L343.2,33.9 L348.3,33.9 L353.4,33.8 L358.5,33.7 L363.6,33.7 L368.7,33.6 L373.9,33.5 L379.0,33.4 L384.1,33.4 L389.2,33.3 L394.3,33.2 L399.4,33.1 L404.5,33.0 L409.6,32.9 L414.8,32.9 L419.9,32.8 L425.0,32.7 L430.1,32.6 L435.2,32.5 M271.6,36.4 L276.7,36.4 L281.8,36.3 L286.9,36.3 L292.1,36.3 L297.2,36.3 L302.3,36.2 L307.4,36.2 L312.5,36.2 L317.6,36.1 L322.7,36.1 L327.8,36.1 L332.9,36.0 L338.1,36.0 L343.2,35.9 L348.3,35.9 L353.4,35.8 L358.5,35.7 L363.6,35.7 L368.7,35.6 L373.9,35.5 L379.0,35.5 L384.1,35.4 L389.2,35.3 L394.3,35.2 L399.4,35.1 L404.5,35.0 L409.6,35.0 L414.8,34.9 L419.9,34.8 L425.0,34.7 L430.1,34.6 L435.2,34.5 M271.6,41.6 L276.7,41.5 L281.8,41.5 L286.9,41.4 L292.1,41.4 L297.2,41.3 L302.3,41.3 L307.4,41.2 L312.5,41.1 L317.6,41.1 L322.7,41.0 L327.8,40.9 L332.9,40.9 L338.1,40.8 L343.2,40.7 L348.3,40.6 L353.4,40.5 L358.5,40.4 L363.6,40.3 L368.7,40.2 L373.9,40.1 L379.0,39.9 L384.1,39.8 L389.2,39.7 L394.3,39.5 L399.4,39.4 L404.5,39.3 L409.6,39.1 L414.8,39.0 L419.9,38.8 L425.0,38.7 L430.1,38.5 L435.2,38.4 M271.6,43.5 L276.7,43.4 L281.8,43.2 L286.9,43.1 L292.1,43.0 L297.2,42.8 L302.3,42.7 L307.4,42.6 L312.5,42.4 L317.6,42.3 L322.7,42.2 L327.8,42.1 L332.9,41.9 L338.1,41.8 L343.2,41.7 L348.3,41.6 L353.4,41.5 L358.5,41.4 L363.6,41.3 L368.7,41.2 L373.9,41.1 L379.0,41.1 L384.1,41.0 L389.2,40.9 L394.3,40.8 L399.4,40.8 L404.5,40.7 L409.6,40.6 L414.8,40.6 L419.9,40.5 L425.0,40.4 L430.1,40.4 L435.2,40.3 M271.6,44.8 L276.7,44.7 L281.8,44.6 L286.9,44.6 L292.1,44.5 L297.2,44.4 L302.3,44.3 L307.4,44.2 L312.5,44.1 L317.6,44.1 L322.7,44.0 L327.8,43.9 L332.9,43.8 L338.1,43.7 L343.2,43.7 L348.3,43.6 L353.4,43.5 L358.5,43.4 L363.6,43.3 L368.7,43.3 L373.9,43.2 L379.0,43.1 L384.1,43.0 L389.2,42.9 L394.3,42.9 L399.4,42.8 L404.5,42.7 L409.6,42.6 L414.8,42.5 L419.9,42.4 L425.0,42.4 L430.1,42.3 L435.2,42.2 M271.6,48.0 L276.7,48.0 L281.8,48.0 L286.9,48.0 L292.1,48.0 L297.2,48.0 L302.3,48.0 L307.4,48.0 L312.5,47.9 L317.6,47.9 L322.7,47.9 L327.8,47.8 L332.9,47.8 L338.1,47.7 L343.2,47.6 L348.3,47.5 L353.4,47.4 L358.5,47.3 L363.6,47.1 L368.7,47.0 L373.9,46.8 L379.0,46.6 L384.1,46.4 L389.2,46.2 L394.3,46.0 L399.4,45.8 L404.5,45.6 L409.6,45.4 L414.8,45.2 L419.9,44.9 L425.0,44.7 L430.1,44.4 L435.2,44.2 M271.6,49.4 L276.7,49.4 L281.8,49.4 L286.9,49.4 L292.1,49.3 L297.2,49.3 L302.3,49.3 L307.4,49.3 L312.5,49.2 L317.6,49.2 L322.7,49.1 L327.8,49.1 L332.9,49.0 L338.1,49.0 L343.2,48.9 L348.3,48.8 L353.4,48.7 L358.5,48.6 L363.6,48.5 L368.7,48.3 L373.9,48.2 L379.0,48.1 L384.1,47.9 L389.2,47.7 L394.3,47.6 L399.4,47.4 L404.5,47.2 L409.6,47.0 L414.8,46.9 L419.9,46.7 L425.0,46.5 L430.1,46.3 L435.2,46.1 M271.6,52.6 L276.7,52.5 L281.8,52.4 L286.9,52.2 L292.1,52.1 L297.2,52.0 L302.3,51.9 L307.4,51.8 L312.5,51.7 L317.6,51.5 L322.7,51.4 L327.8,51.3 L332.9,51.2 L338.1,51.1 L343.2,50.9 L348.3,50.8 L353.4,50.7 L358.5,50.6 L363.6,50.5 L368.7,50.3 L373.9,50.2 L379.0,50.1 L384.1,50.0 L389.2,49.8 L394.3,49.7 L399.4,49.6 L404.5,49.5 L409.6,49.3 L414.8,49.2 L419.9,49.1 L425.0,49.0 L430.1,48.8 L435.2,48.7 M271.6,55.2 L276.7,55.3 L281.8,55.3 L286.9,55.4 L292.1,55.5 L297.2,55.5 L302.3,55.6 L307.4,55.6 L312.5,55.6 L317.6,55.6 L322.7,55.6 L327.8,55.6 L332.9,55.6 L338.1,55.5 L343.2,55.4 L348.3,55.3 L353.4,55.2 L358.5,55.0 L363.6,54.9 L368.7,54.7 L373.9,54.4 L379.0,54.2 L384.1,53.9 L389.2,53.7 L394.3,53.4 L399.4,53.1 L404.5,52.8 L409.6,52.4 L414.8,52.1 L419.9,51.7 L425.0,51.4 L430.1,51.1 L435.2,50.7 M271.6,63.0 L276.7,63.0 L281.8,62.9 L286.9,62.9 L292.1,62.8 L297.2,62.8 L302.3,62.7 L307.4,62.6 L312.5,62.5 L317.6,62.4 L322.7,62.2 L327.8,62.0 L332.9,61.7 L338.1,61.4 L343.2,61.0 L348.3,60.6 L353.4,60.0 L358.5,59.3 L363.6,58.6 L368.7,57.8 L373.9,57.0 L379.0,56.2 L384.1,55.4 L389.2,54.7 L394.3,54.0 L399.4,53.4 L404.5,52.9 L409.6,52.4 L414.8,52.0 L419.9,51.6 L425.0,51.3 L430.1,51.0 L435.2,50.7 M271.6,71.2 L276.7,71.4 L281.8,71.6 L286.9,71.7 L292.1,71.8 L297.2,71.8 L302.3,71.8 L307.4,71.7 L312.5,71.4 L317.6,71.1 L322.7,70.6 L327.8,70.0 L332.9,69.2 L338.1,68.4 L343.2,67.5 L348.3,66.6 L353.4,65.6 L358.5,64.6 L363.6,63.7 L368.7,62.8 L373.9,61.9 L379.0,61.0 L384.1,60.1 L389.2,59.3 L394.3,58.5 L399.4,57.8 L404.5,57.0 L409.6,56.4 L414.8,55.7 L419.9,55.1 L425.0,54.5 L430.1,53.9 L435.2,53.3 M271.6,73.5 L276.7,73.7 L281.8,73.9 L286.9,74.1 L292.1,74.3 L297.2,74.3 L302.3,74.3 L307.4,74.2 L312.5,73.9 L317.6,73.5 L322.7,73.0 L327.8,72.3 L332.9,71.4 L338.1,70.5 L343.2,69.5 L348.3,68.5 L353.4,67.5 L358.5,66.5 L363.6,65.5 L368.7,64.6 L373.9,63.7 L379.0,62.8 L384.1,62.0 L389.2,61.2 L394.3,60.5 L399.4,59.8 L404.5,59.2 L409.6,58.5 L414.8,58.0 L419.9,57.4 L425.0,56.9 L430.1,56.3 L435.2,55.8 M271.6,75.0 L276.7,75.2 L281.8,75.4 L286.9,75.5 L292.1,75.6 L297.2,75.7 L302.3,75.7 L307.4,75.5 L312.5,75.3 L317.6,75.0 L322.7,74.5 L327.8,73.9 L332.9,73.2 L338.1,72.3 L343.2,71.4 L348.3,70.5 L353.4,69.5 L358.5,68.5 L363.6,67.5 L368.7,66.5 L373.9,65.5 L379.0,64.6 L384.1,63.7 L389.2,62.8 L394.3,62.0 L399.4,61.2 L404.5,60.6 L409.6,59.9 L414.8,59.3 L419.9,58.7 L425.0,58.2 L430.1,57.6 L435.2,57.1 M271.6,76.4 L276.7,76.6 L281.8,76.7 L286.9,76.8 L292.1,76.9 L297.2,77.0 L302.3,77.0 L307.4,77.0 L312.5,76.9 L317.6,76.7 L322.7,76.4 L327.8,76.1 L332.9,75.6 L338.1,75.1 L343.2,74.5 L348.3,73.8 L353.4,73.1 L358.5,72.3 L363.6,71.5 L368.7,70.7 L373.9,69.9 L379.0,69.2 L384.1,68.4 L389.2,67.7 L394.3,67.0 L399.4,66.4 L404.5,65.8 L409.6,65.3 L414.8,64.8 L419.9,64.4 L425.0,64.0 L430.1,63.6 L435.2,63.2 M271.6,78.6 L276.7,78.8 L281.8,78.9 L286.9,79.1 L292.1,79.2 L297.2,79.3 L302.3,79.3 L307.4,79.3 L312.5,79.2 L317.6,79.0 L322.7,78.7 L327.8,78.3 L332.9,77.8 L338.1,77.2 L343.2,76.5 L348.3,75.8 L353.4,75.0 L358.5,74.2 L363.6,73.4 L368.7,72.5 L373.9,71.7 L379.0,70.9 L384.1,70.1 L389.2,69.3 L394.3,68.5 L399.4,67.8 L404.5,67.1 L409.6,66.4 L414.8,65.7 L419.9,65.1 L425.0,64.4 L430.1,63.8 L435.2,63.2 M271.6,87.8 L276.7,87.7 L281.8,87.7 L286.9,87.6 L292.1,87.6 L297.2,87.5 L302.3,87.6 L307.4,87.6 L312.5,87.7 L317.6,87.8 L322.7,87.9 L327.8,88.1 L332.9,88.4 L338.1,88.7 L343.2,89.0 L348.3,89.5 L353.4,90.0 L358.5,90.6 L363.6,91.3 L368.7,92.0 L373.9,92.8 L379.0,93.6 L384.1,94.5 L389.2,95.5 L394.3,96.5 L399.4,97.5 L404.5,98.6 L409.6,99.7 L414.8,100.8 L419.9,102.0 L425.0,103.2 L430.1,104.3 L435.2,105.5 M271.6,99.0 L276.7,98.9 L281.8,98.9 L286.9,98.7 L292.1,98.6 L297.2,98.3 L302.3,98.0 L307.4,97.6 L312.5,97.0 L317.6,96.3 L322.7,95.5 L327.8,94.7 L332.9,93.9 L338.1,93.2 L343.2,92.6 L348.3,92.1 L353.4,91.9 L358.5,91.9 L363.6,92.2 L368.7,92.7 L373.9,93.3 L379.0,94.1 L384.1,95.0 L389.2,96.0 L394.3,97.0 L399.4,98.0 L404.5,99.1 L409.6,100.1 L414.8,101.2 L419.9,102.3 L425.0,103.3 L430.1,104.4 L435.2,105.5 M271.6,123.9 L276.7,123.9 L281.8,123.8 L286.9,123.8 L292.1,123.7 L297.2,123.7 L302.3,123.6 L307.4,123.6 L312.5,123.6 L317.6,123.6 L322.7,123.6 L327.8,123.5 L332.9,123.4 L338.1,123.2 L343.2,123.0 L348.3,122.7 L353.4,122.2 L358.5,121.6 L363.6,120.9 L368.7,120.1 L373.9,119.2 L379.0,118.2 L384.1,117.2 L389.2,116.1 L394.3,115.0 L399.4,113.9 L404.5,112.8 L409.6,111.7 L414.8,110.5 L419.9,109.4 L425.0,108.3 L430.1,107.1 L435.2,106.0 M271.6,137.5 L276.7,137.4 L281.8,137.2 L286.9,137.1 L292.1,137.0 L297.2,136.9 L302.3,136.9 L307.4,136.9 L312.5,136.9 L317.6,137.0 L322.7,137.1 L327.8,137.3 L332.9,137.6 L338.1,137.9 L343.2,138.3 L348.3,138.8 L353.4,139.4 L358.5,140.1 L363.6,140.9 L368.7,141.7 L373.9,142.7 L379.0,143.7 L384.1,144.8 L389.2,146.0 L394.3,147.3 L399.4,148.6 L404.5,150.0 L409.6,151.4 L414.8,152.9 L419.9,154.4 L425.0,155.9 L430.1,157.4 L435.2,159.0 M271.6,143.8 L276.7,143.9 L281.8,143.9 L286.9,144.0 L292.1,144.1 L297.2,144.1 L302.3,144.2 L307.4,144.3 L312.5,144.4 L317.6,144.4 L322.7,144.5 L327.8,144.6 L332.9,144.6 L338.1,144.7 L343.2,144.8 L348.3,144.8 L353.4,144.9 L358.5,145.0 L363.6,145.0 L368.7,145.1 L373.9,145.2 L379.0,145.2 L384.1,145.3 L389.2,145.4 L394.3,145.4 L399.4,145.5 L404.5,145.6 L409.6,145.7 L414.8,145.7 L419.9,145.8 L425.0,145.9 L430.1,145.9 L435.2,146.0 M271.6,159.0 L276.7,158.8 L281.8,158.6 L286.9,158.4 L292.1,158.2 L297.2,158.0 L302.3,157.9 L307.4,157.7 L312.5,157.5 L317.6,157.3 L322.7,157.1 L327.8,156.9 L332.9,156.8 L338.1,156.6 L343.2,156.4 L348.3,156.3 L353.4,156.1 L358.5,155.9 L363.6,155.8 L368.7,155.6 L373.9,155.5 L379.0,155.3 L384.1,155.2 L389.2,155.1 L394.3,154.9 L399.4,154.8 L404.5,154.7 L409.6,154.5 L414.8,154.4 L419.9,154.3 L425.0,154.2 L430.1,154.0 L435.2,153.9 M271.6,170.6 L435.2,170.8 M271.6,171.9 L276.7,171.8 L281.8,171.8 L286.9,171.7 L292.1,171.6 L297.2,171.6 L302.3,171.5 L307.4,171.4 L312.5,171.3 L317.6,171.2 L322.7,171.1 L327.8,170.9 L332.9,170.8 L338.1,170.6 L343.2,170.4 L348.3,170.2 L353.4,170.0 L358.5,169.8 L363.6,169.5 L368.7,169.2 L373.9,168.9 L379.0,168.6 L384.1,168.3 L389.2,167.9 L394.3,167.5 L399.4,167.2 L404.5,166.8 L409.6,166.4 L414.8,166.0 L419.9,165.6 L425.0,165.2 L430.1,164.8 L435.2,164.4 M271.6,187.2 L276.7,187.2 L281.8,187.1 L286.9,187.0 L292.1,186.9 L297.2,186.8 L302.3,186.6 L307.4,186.4 L312.5,186.2 L317.6,185.8 L322.7,185.4 L327.8,184.9 L332.9,184.4 L338.1,183.7 L343.2,182.9 L348.3,182.0 L353.4,181.0 L358.5,179.9 L363.6,178.6 L368.7,177.3 L373.9,175.9 L379.0,174.4 L384.1,172.9 L389.2,171.5 L394.3,170.0 L399.4,168.5 L404.5,167.1 L409.6,165.7 L414.8,164.3 L419.9,163.0 L425.0,161.6 L430.1,160.3 L435.2,159.0 M271.6,195.0 L276.7,195.3 L281.8,195.5 L286.9,195.8 L292.1,196.1 L297.2,196.3 L302.3,196.5 L307.4,196.7 L312.5,196.8 L317.6,197.0 L322.7,197.1 L327.8,197.1 L332.9,197.2 L338.1,197.2 L343.2,197.2 L348.3,197.2 L353.4,197.3 L358.5,197.4 L363.6,197.5 L368.7,197.6 L373.9,197.7 L379.0,197.9 L384.1,198.1 L389.2,198.3 L394.3,198.5 L399.4,198.8 L404.5,199.0 L409.6,199.2 L414.8,199.5 L419.9,199.8 L425.0,200.0 L430.1,200.3 L435.2,200.6 M271.6,198.9 L276.7,198.7 L281.8,198.5 L286.9,198.3 L292.1,198.1 L297.2,197.9 L302.3,197.7 L307.4,197.5 L312.5,197.3 L317.6,197.1 L322.7,196.8 L327.8,196.6 L332.9,196.3 L338.1,196.1 L343.2,195.8 L348.3,195.6 L353.4,195.3 L358.5,195.1 L363.6,194.8 L368.7,194.6 L373.9,194.4 L379.0,194.1 L384.1,193.9 L389.2,193.7 L394.3,193.5 L399.4,193.3 L404.5,193.1 L409.6,192.9 L414.8,192.7 L419.9,192.6 L425.0,192.4 L430.1,192.2 L435.2,192.0 M271.6,236.6 L276.7,236.6 L281.8,236.6 L286.9,236.7 L292.1,236.7 L297.2,236.7 L302.3,236.8 L307.4,236.8 L312.5,236.9 L317.6,236.9 L322.7,237.0 L327.8,237.0 L332.9,237.1 L338.1,237.2 L343.2,237.3 L348.3,237.4 L353.4,237.5 L358.5,237.6 L363.6,237.8 L368.7,237.9 L373.9,238.1 L379.0,238.2 L384.1,238.4 L389.2,238.6 L394.3,238.8 L399.4,239.0 L404.5,239.2 L409.6,239.4 L414.8,239.6 L419.9,239.8 L425.0,240.1 L430.1,240.3 L435.2,240.5 M271.6,238.3 L276.7,238.3 L281.8,238.3 L286.9,238.2 L292.1,238.2 L297.2,238.2 L302.3,238.2 L307.4,238.2 L312.5,238.2 L317.6,238.2 L322.7,238.2 L327.8,238.2 L332.9,238.3 L338.1,238.3 L343.2,238.4 L348.3,238.4 L353.4,238.5 L358.5,238.6 L363.6,238.7 L368.7,238.8 L373.9,238.9 L379.0,239.1 L384.1,239.2 L389.2,239.4 L394.3,239.5 L399.4,239.7 L404.5,239.9 L409.6,240.1 L414.8,240.2 L419.9,240.4 L425.0,240.6 L430.1,240.8 L435.2,241.0 M271.6,240.0 L276.7,239.9 L281.8,239.9 L286.9,239.8 L292.1,239.8 L297.2,239.7 L302.3,239.7 L307.4,239.6 L312.5,239.6 L317.6,239.5 L322.7,239.5 L327.8,239.5 L332.9,239.5 L338.1,239.5 L343.2,239.5 L348.3,239.5 L353.4,239.5 L358.5,239.5 L363.6,239.6 L368.7,239.6 L373.9,239.7 L379.0,239.8 L384.1,239.9 L389.2,240.0 L394.3,240.1 L399.4,240.2 L404.5,240.3 L409.6,240.4 L414.8,240.5 L419.9,240.6 L425.0,240.8 L430.1,240.9 L435.2,241.0 M271.6,244.8 L276.7,244.8 L281.8,244.8 L286.9,244.8 L292.1,244.7 L297.2,244.7 L302.3,244.7 L307.4,244.7 L312.5,244.6 L317.6,244.6 L322.7,244.5 L327.8,244.5 L332.9,244.4 L338.1,244.4 L343.2,244.3 L348.3,244.2 L353.4,244.1 L358.5,244.0 L363.6,243.9 L368.7,243.7 L373.9,243.6 L379.0,243.5 L384.1,243.3 L389.2,243.1 L394.3,243.0 L399.4,242.8 L404.5,242.6 L409.6,242.4 L414.8,242.3 L419.9,242.1 L425.0,241.9 L430.1,241.7 L435.2,241.5 M271.6,273.1 L276.7,273.1 L281.8,273.1 L286.9,273.2 L292.1,273.2 L297.2,273.2 L302.3,273.3 L307.4,273.3 L312.5,273.4 L317.6,273.5 L322.7,273.6 L327.8,273.7 L332.9,273.8 L338.1,274.0 L343.2,274.2 L348.3,274.4 L353.4,274.6 L358.5,274.9 L363.6,275.1 L368.7,275.5 L373.9,275.8 L379.0,276.2 L384.1,276.6 L389.2,277.0 L394.3,277.5 L399.4,278.0 L404.5,278.5 L409.6,279.1 L414.8,279.6 L419.9,280.2 L425.0,280.8 L430.1,281.4 L435.2,282.0 M271.6,280.9 L276.7,280.7 L281.8,280.4 L286.9,280.2 L292.1,280.0 L297.2,279.8 L302.3,279.6 L307.4,279.4 L312.5,279.3 L317.6,279.2 L322.7,279.1 L327.8,279.0 L332.9,279.0 L338.1,279.1 L343.2,279.2 L348.3,279.3 L353.4,279.5 L358.5,279.8 L363.6,280.1 L368.7,280.4 L373.9,280.8 L379.0,281.3 L384.1,281.8 L389.2,282.4 L394.3,283.0 L399.4,283.7 L404.5,284.3 L409.6,285.1 L414.8,285.8 L419.9,286.6 L425.0,287.4 L430.1,288.2 L435.2,289.0 M271.6,289.6 L276.7,290.0 L281.8,290.3 L286.9,290.7 L292.1,291.1 L297.2,291.4 L302.3,291.8 L307.4,292.2 L312.5,292.6 L317.6,292.9 L322.7,293.3 L327.8,293.7 L332.9,294.1 L338.1,294.5 L343.2,294.9 L348.3,295.4 L353.4,295.8 L358.5,296.2 L363.6,296.7 L368.7,297.2 L373.9,297.6 L379.0,298.1 L384.1,298.6 L389.2,299.1 L394.3,299.6 L399.4,300.0 L404.5,300.5 L409.6,301.0 L414.8,301.6 L419.9,302.1 L425.0,302.6 L430.1,303.1 L435.2,303.6 M271.6,294.5 L276.7,294.9 L281.8,295.2 L286.9,295.5 L292.1,295.9 L297.2,296.2 L302.3,296.5 L307.4,296.7 L312.5,297.0 L317.6,297.1 L322.7,297.3 L327.8,297.4 L332.9,297.5 L338.1,297.5 L343.2,297.4 L348.3,297.3 L353.4,297.1 L358.5,296.8 L363.6,296.5 L368.7,296.1 L373.9,295.7 L379.0,295.2 L384.1,294.6 L389.2,294.0 L394.3,293.4 L399.4,292.7 L404.5,292.0 L409.6,291.3 L414.8,290.5 L419.9,289.8 L425.0,289.0 L430.1,288.2 L435.2,287.4 M271.6,301.2 L276.7,301.1 L281.8,301.0 L286.9,301.0 L292.1,300.9 L297.2,300.8 L302.3,300.7 L307.4,300.7 L312.5,300.6 L317.6,300.5 L322.7,300.5 L327.8,300.4 L332.9,300.4 L338.1,300.4 L343.2,300.3 L348.3,300.3 L353.4,300.3 L358.5,300.3 L363.6,300.3 L368.7,300.3 L373.9,300.3 L379.0,300.4 L384.1,300.4 L389.2,300.5 L394.3,300.5 L399.4,300.6 L404.5,300.6 L409.6,300.7 L414.8,300.7 L419.9,300.8 L425.0,300.9 L430.1,300.9 L435.2,301.0 M271.6,303.6 L276.7,303.7 L281.8,303.7 L286.9,303.8 L292.1,303.8 L297.2,303.9 L302.3,303.9 L307.4,304.0 L312.5,304.0 L317.6,304.1 L322.7,304.1 L327.8,304.1 L332.9,304.1 L338.1,304.2 L343.2,304.2 L348.3,304.2 L353.4,304.2 L358.5,304.2 L363.6,304.2 L368.7,304.2 L373.9,304.1 L379.0,304.1 L384.1,304.1 L389.2,304.1 L394.3,304.0 L399.4,304.0 L404.5,303.9 L409.6,303.9 L414.8,303.8 L419.9,303.8 L425.0,303.7 L430.1,303.7 L435.2,303.6" stroke="#f01414" stroke-width="1.95"/>
<path d="M271.6,32.5 L276.7,32.5 L281.8,32.4 L286.9,32.4 L292.1,32.4 L297.2,32.3 L302.3,32.3 L307.4,32.2 L312.5,32.2 L317.6,32.2 L322.7,32.1 L327.8,32.1 L332.9,32.1 L338.1,32.0 L343.2,32.0 L348.3,31.9 L353.4,31.9 L358.5,31.9 L363.6,31.8 L368.7,31.8 L373.9,31.7 L379.0,31.7 L384.1,31.6 L389.2,31.6 L394.3,31.6 L399.4,31.5 L404.5,31.5 L409.6,31.4 L414.8,31.4 L419.9,31.3 L425.0,31.3 L430.1,31.2 L435.2,31.2 M271.6,34.5 L276.7,34.5 L281.8,34.4 L286.9,34.4 L292.1,34.4 L297.2,34.3 L302.3,34.3 L307.4,34.2 L312.5,34.2 L317.6,34.2 L322.7,34.1 L327.8,34.1 L332.9,34.0 L338.1,34.0 L343.2,33.9 L348.3,33.9 L353.4,33.8 L358.5,33.7 L363.6,33.7 L368.7,33.6 L373.9,33.5 L379.0,33.4 L384.1,33.4 L389.2,33.3 L394.3,33.2 L399.4,33.1 L404.5,33.0 L409.6,32.9 L414.8,32.9 L419.9,32.8 L425.0,32.7 L430.1,32.6 L435.2,32.5 M271.6,40.3 L276.7,40.3 L281.8,40.3 L286.9,40.3 L292.1,40.3 L297.2,40.3 L302.3,40.3 L307.4,40.3 L312.5,40.3 L317.6,40.2 L322.7,40.2 L327.8,40.1 L332.9,40.1 L338.1,40.0 L343.2,39.9 L348.3,39.8 L353.4,39.7 L358.5,39.6 L363.6,39.4 L368.7,39.3 L373.9,39.1 L379.0,38.9 L384.1,38.7 L389.2,38.5 L394.3,38.3 L399.4,38.1 L404.5,37.9 L409.6,37.6 L414.8,37.4 L419.9,37.1 L425.0,36.9 L430.1,36.6 L435.2,36.4 M271.6,43.5 L276.7,43.4 L281.8,43.2 L286.9,43.1 L292.1,43.0 L297.2,42.8 L302.3,42.7 L307.4,42.6 L312.5,42.4 L317.6,42.3 L322.7,42.2 L327.8,42.1 L332.9,41.9 L338.1,41.8 L343.2,41.7 L348.3,41.6 L353.4,41.5 L358.5,41.4 L363.6,41.3 L368.7,41.2 L373.9,41.1 L379.0,41.1 L384.1,41.0 L389.2,40.9 L394.3,40.8 L399.4,40.8 L404.5,40.7 L409.6,40.6 L414.8,40.6 L419.9,40.5 L425.0,40.4 L430.1,40.4 L435.2,40.3 M271.6,44.8 L276.7,44.7 L281.8,44.6 L286.9,44.6 L292.1,44.5 L297.2,44.4 L302.3,44.3 L307.4,44.2 L312.5,44.1 L317.6,44.1 L322.7,44.0 L327.8,43.9 L332.9,43.8 L338.1,43.7 L343.2,43.7 L348.3,43.6 L353.4,43.5 L358.5,43.4 L363.6,43.3 L368.7,43.3 L373.9,43.2 L379.0,43.1 L384.1,43.0 L389.2,42.9 L394.3,42.9 L399.4,42.8 L404.5,42.7 L409.6,42.6 L414.8,42.5 L419.9,42.4 L425.0,42.4 L430.1,42.3 L435.2,42.2 M271.6,48.0 L276.7,48.0 L281.8,48.0 L286.9,48.0 L292.1,48.0 L297.2,48.0 L302.3,48.0 L307.4,48.0 L312.5,47.9 L317.6,47.9 L322.7,47.9 L327.8,47.8 L332.9,47.8 L338.1,47.7 L343.2,47.6 L348.3,47.5 L353.4,47.4 L358.5,47.3 L363.6,47.1 L368.7,47.0 L373.9,46.8 L379.0,46.6 L384.1,46.4 L389.2,46.2 L394.3,46.0 L399.4,45.8 L404.5,45.6 L409.6,45.4 L414.8,45.2 L419.9,44.9 L425.0,44.7 L430.1,44.4 L435.2,44.2 M271.6,49.4 L276.7,49.4 L281.8,49.4 L286.9,49.4 L292.1,49.3 L297.2,49.3 L302.3,49.3 L307.4,49.3 L312.5,49.2 L317.6,49.2 L322.7,49.1 L327.8,49.1 L332.9,49.0 L338.1,49.0 L343.2,48.9 L348.3,48.8 L353.4,48.7 L358.5,48.6 L363.6,48.5 L368.7,48.3 L373.9,48.2 L379.0,48.1 L384.1,47.9 L389.2,47.7 L394.3,47.6 L399.4,47.4 L404.5,47.2 L409.6,47.0 L414.8,46.9 L419.9,46.7 L425.0,46.5 L430.1,46.3 L435.2,46.1 M271.6,52.6 L276.7,52.5 L281.8,52.4 L286.9,52.2 L292.1,52.1 L297.2,52.0 L302.3,51.9 L307.4,51.8 L312.5,51.7 L317.6,51.5 L322.7,51.4 L327.8,51.3 L332.9,51.2 L338.1,51.1 L343.2,50.9 L348.3,50.8 L353.4,50.7 L358.5,50.6 L363.6,50.5 L368.7,50.3 L373.9,50.2 L379.0,50.1 L384.1,50.0 L389.2,49.8 L394.3,49.7 L399.4,49.6 L404.5,49.5 L409.6,49.3 L414.8,49.2 L419.9,49.1 L425.0,49.0 L430.1,48.8 L435.2,48.7 M271.6,55.2 L276.7,55.3 L281.8,55.3 L286.9,55.4 L292.1,55.5 L297.2,55.5 L302.3,55.6 L307.4,55.6 L312.5,55.6 L317.6,55.6 L322.7,55.6 L327.8,55.6 L332.9,55.6 L338.1,55.5 L343.2,55.4 L348.3,55.3 L353.4,55.2 L358.5,55.0 L363.6,54.9 L368.7,54.7 L373.9,54.4 L379.0,54.2 L384.1,53.9 L389.2,53.7 L394.3,53.4 L399.4,53.1 L404.5,52.8 L409.6,52.4 L414.8,52.1 L419.9,51.7 L425.0,51.4 L430.1,51.1 L435.2,50.7 M271.6,61.7 L276.7,61.7 L281.8,61.7 L286.9,61.6 L292.1,61.6 L297.2,61.5 L302.3,61.4 L307.4,61.3 L312.5,61.2 L317.6,61.0 L322.7,60.8 L327.8,60.6 L332.9,60.3 L338.1,59.9 L343.2,59.5 L348.3,59.0 L353.4,58.4 L358.5,57.7 L363.6,57.0 L368.7,56.3 L373.9,55.5 L379.0,54.7 L384.1,53.9 L389.2,53.2 L394.3,52.5 L399.4,51.9 L404.5,51.3 L409.6,50.8 L414.8,50.3 L419.9,49.9 L425.0,49.5 L430.1,49.1 L435.2,48.7 M271.6,69.2 L276.7,69.4 L281.8,69.7 L286.9,69.9 L292.1,70.0 L297.2,70.0 L302.3,70.0 L307.4,69.9 L312.5,69.6 L317.6,69.1 L322.7,68.5 L327.8,67.8 L332.9,66.9 L338.1,65.9 L343.2,64.9 L348.3,63.8 L353.4,62.8 L358.5,61.8 L363.6,60.9 L368.7,60.1 L373.9,59.3 L379.0,58.5 L384.1,57.8 L389.2,57.1 L394.3,56.5 L399.4,55.9 L404.5,55.3 L409.6,54.7 L414.8,54.1 L419.9,53.6 L425.0,53.1 L430.1,52.5 L435.2,52.0 M271.6,73.5 L276.7,73.7 L281.8,73.9 L286.9,74.1 L292.1,74.3 L297.2,74.3 L302.3,74.3 L307.4,74.2 L312.5,73.9 L317.6,73.5 L322.7,73.0 L327.8,72.3 L332.9,71.4 L338.1,70.5 L343.2,69.5 L348.3,68.5 L353.4,67.5 L358.5,66.5 L363.6,65.5 L368.7,64.6 L373.9,63.7 L379.0,62.8 L384.1,62.0 L389.2,61.2 L394.3,60.5 L399.4,59.8 L404.5,59.2 L409.6,58.5 L414.8,58.0 L419.9,57.4 L425.0,56.9 L430.1,56.3 L435.2,55.8 M271.6,75.0 L276.7,75.2 L281.8,75.4 L286.9,75.5 L292.1,75.6 L297.2,75.7 L302.3,75.7 L307.4,75.5 L312.5,75.3 L317.6,75.0 L322.7,74.5 L327.8,73.9 L332.9,73.2 L338.1,72.3 L343.2,71.4 L348.3,70.5 L353.4,69.5 L358.5,68.5 L363.6,67.5 L368.7,66.5 L373.9,65.5 L379.0,64.6 L384.1,63.7 L389.2,62.8 L394.3,62.0 L399.4,61.2 L404.5,60.6 L409.6,59.9 L414.8,59.3 L419.9,58.7 L425.0,58.2 L430.1,57.6 L435.2,57.1 M271.6,76.4 L276.7,76.6 L281.8,76.7 L286.9,76.8 L292.1,76.9 L297.2,77.0 L302.3,77.0 L307.4,77.0 L312.5,76.9 L317.6,76.7 L322.7,76.4 L327.8,76.1 L332.9,75.6 L338.1,75.1 L343.2,74.5 L348.3,73.8 L353.4,73.1 L358.5,72.3 L363.6,71.5 L368.7,70.7 L373.9,69.9 L379.0,69.2 L384.1,68.4 L389.2,67.7 L394.3,67.0 L399.4,66.4 L404.5,65.8 L409.6,65.3 L414.8,64.8 L419.9,64.4 L425.0,64.0 L430.1,63.6 L435.2,63.2 M271.6,86.3 L276.7,86.2 L281.8,86.2 L286.9,86.1 L292.1,86.1 L297.2,86.0 L302.3,86.0 L307.4,86.1 L312.5,86.2 L317.6,86.3 L322.7,86.4 L327.8,86.6 L332.9,86.9 L338.1,87.3 L343.2,87.7 L348.3,88.1 L353.4,88.7 L358.5,89.3 L363.6,90.1 L368.7,90.9 L373.9,91.7 L379.0,92.6 L384.1,93.6 L389.2,94.7 L394.3,95.8 L399.4,96.9 L404.5,98.0 L409.6,99.2 L414.8,100.5 L419.9,101.7 L425.0,103.0 L430.1,104.2 L435.2,105.5 M271.6,96.7 L276.7,96.6 L281.8,96.5 L286.9,96.4 L292.1,96.2 L297.2,96.0 L302.3,95.8 L307.4,95.4 L312.5,95.0 L317.6,94.5 L322.7,93.9 L327.8,93.3 L332.9,92.7 L338.1,92.2 L343.2,91.7 L348.3,91.4 L353.4,91.3 L358.5,91.4 L363.6,91.6 L368.7,92.0 L373.9,92.6 L379.0,93.3 L384.1,94.1 L389.2,95.0 L394.3,96.0 L399.4,97.1 L404.5,98.2 L409.6,99.3 L414.8,100.5 L419.9,101.7 L425.0,103.0 L430.1,104.2 L435.2,105.5 M271.6,107.6 L276.7,107.6 L281.8,107.7 L286.9,107.7 L292.1,107.8 L297.2,107.8 L302.3,107.8 L307.4,107.9 L312.5,107.9 L317.6,108.0 L322.7,108.0 L327.8,108.1 L332.9,108.1 L338.1,108.2 L343.2,108.2 L348.3,108.3 L353.4,108.3 L358.5,108.4 L363.6,108.4 L368.7,108.5 L373.9,108.5 L379.0,108.6 L384.1,108.6 L389.2,108.7 L394.3,108.7 L399.4,108.8 L404.5,108.8 L409.6,108.9 L414.8,109.0 L419.9,109.0 L425.0,109.1 L430.1,109.1 L435.2,109.2 M271.6,119.6 L276.7,119.7 L281.8,119.8 L286.9,119.9 L292.1,120.0 L297.2,120.1 L302.3,120.2 L307.4,120.3 L312.5,120.3 L317.6,120.4 L322.7,120.5 L327.8,120.5 L332.9,120.5 L338.1,120.5 L343.2,120.5 L348.3,120.5 L353.4,120.5 L358.5,120.5 L363.6,120.4 L368.7,120.3 L373.9,120.2 L379.0,120.1 L384.1,120.0 L389.2,119.8 L394.3,119.7 L399.4,119.5 L404.5,119.4 L409.6,119.2 L414.8,119.0 L419.9,118.9 L425.0,118.7 L430.1,118.5 L435.2,118.3 M271.6,121.8 L276.7,121.8 L281.8,121.8 L286.9,121.8 L292.1,121.8 L297.2,121.8 L302.3,121.8 L307.4,121.8 L312.5,121.8 L317.6,121.8 L322.7,121.7 L327.8,121.7 L332.9,121.6 L338.1,121.4 L343.2,121.2 L348.3,120.9 L353.4,120.5 L358.5,120.0 L363.6,119.4 L368.7,118.8 L373.9,118.0 L379.0,117.2 L384.1,116.4 L389.2,115.5 L394.3,114.5 L399.4,113.5 L404.5,112.5 L409.6,111.4 L414.8,110.4 L419.9,109.3 L425.0,108.2 L430.1,107.1 L435.2,106.0 M271.6,135.5 L276.7,135.4 L281.8,135.2 L286.9,135.1 L292.1,135.0 L297.2,134.8 L302.3,134.7 L307.4,134.6 L312.5,134.5 L317.6,134.4 L322.7,134.3 L327.8,134.2 L332.9,134.1 L338.1,134.1 L343.2,134.2 L348.3,134.5 L353.4,134.8 L358.5,135.3 L363.6,135.9 L368.7,136.7 L373.9,137.6 L379.0,138.6 L384.1,139.7 L389.2,140.9 L394.3,142.2 L399.4,143.5 L404.5,144.9 L409.6,146.3 L414.8,147.8 L419.9,149.3 L425.0,150.9 L430.1,152.4 L435.2,154.0 M271.6,141.2 L276.7,141.2 L281.8,141.2 L286.9,141.2 L292.1,141.3 L297.2,141.3 L302.3,141.3 L307.4,141.3 L312.5,141.3 L317.6,141.3 L322.7,141.2 L327.8,141.2 L332.9,141.2 L338.1,141.2 L343.2,141.1 L348.3,141.1 L353.4,141.0 L358.5,140.9 L363.6,140.8 L368.7,140.7 L373.9,140.6 L379.0,140.5 L384.1,140.4 L389.2,140.3 L394.3,140.2 L399.4,140.0 L404.5,139.9 L409.6,139.8 L414.8,139.6 L419.9,139.5 L425.0,139.3 L430.1,139.2 L435.2,139.0 M271.6,146.4 L276.7,146.4 L281.8,146.4 L286.9,146.4 L292.1,146.4 L297.2,146.4 L302.3,146.4 L307.4,146.4 L312.5,146.5 L317.6,146.5 L322.7,146.6 L327.8,146.7 L332.9,146.9 L338.1,147.0 L343.2,147.2 L348.3,147.4 L353.4,147.6 L358.5,147.9 L363.6,148.1 L368.7,148.4 L373.9,148.7 L379.0,149.0 L384.1,149.2 L389.2,149.4 L394.3,149.6 L399.4,149.7 L404.5,149.7 L409.6,149.6 L414.8,149.6 L419.9,149.5 L425.0,149.3 L430.1,149.2 L435.2,149.0 M271.6,161.5 L276.7,161.2 L281.8,161.0 L286.9,160.7 L292.1,160.4 L297.2,160.1 L302.3,159.9 L307.4,159.6 L312.5,159.3 L317.6,159.1 L322.7,158.8 L327.8,158.6 L332.9,158.3 L338.1,158.1 L343.2,157.9 L348.3,157.6 L353.4,157.4 L358.5,157.2 L363.6,157.0 L368.7,156.8 L373.9,156.6 L379.0,156.4 L384.1,156.2 L389.2,156.0 L394.3,155.8 L399.4,155.6 L404.5,155.4 L409.6,155.3 L414.8,155.1 L419.9,154.9 L425.0,154.7 L430.1,154.6 L435.2,154.4 M271.6,167.8 L435.2,168.0 M271.6,186.4 L276.7,186.1 L281.8,185.7 L286.9,185.4 L292.1,185.0 L297.2,184.7 L302.3,184.3 L307.4,183.8 L312.5,183.4 L317.6,182.9 L322.7,182.3 L327.8,181.7 L332.9,181.0 L338.1,180.3 L343.2,179.5 L348.3,178.6 L353.4,177.7 L358.5,176.7 L363.6,175.6 L368.7,174.4 L373.9,173.1 L379.0,171.8 L384.1,170.4 L389.2,169.0 L394.3,167.5 L399.4,165.9 L404.5,164.3 L409.6,162.7 L414.8,161.0 L419.9,159.3 L425.0,157.5 L430.1,155.8 L435.2,154.0 M271.6,233.5 L276.7,233.6 L281.8,233.6 L286.9,233.7 L292.1,233.8 L297.2,233.8 L302.3,233.9 L307.4,234.0 L312.5,234.1 L317.6,234.2 L322.7,234.3 L327.8,234.5 L332.9,234.6 L338.1,234.7 L343.2,234.9 L348.3,235.1 L353.4,235.3 L358.5,235.5 L363.6,235.8 L368.7,236.0 L373.9,236.3 L379.0,236.6 L384.1,236.8 L389.2,237.1 L394.3,237.5 L399.4,237.8 L404.5,238.1 L409.6,238.5 L414.8,238.8 L419.9,239.1 L425.0,239.5 L430.1,239.8 L435.2,240.2 M271.6,238.3 L276.7,238.3 L281.8,238.3 L286.9,238.2 L292.1,238.2 L297.2,238.2 L302.3,238.2 L307.4,238.2 L312.5,238.2 L317.6,238.2 L322.7,238.2 L327.8,238.2 L332.9,238.3 L338.1,238.3 L343.2,238.4 L348.3,238.4 L353.4,238.5 L358.5,238.6 L363.6,238.7 L368.7,238.8 L373.9,238.9 L379.0,239.1 L384.1,239.2 L389.2,239.4 L394.3,239.5 L399.4,239.7 L404.5,239.9 L409.6,240.1 L414.8,240.2 L419.9,240.4 L425.0,240.6 L430.1,240.8 L435.2,241.0 M271.6,243.5 L276.7,243.4 L281.8,243.4 L286.9,243.3 L292.1,243.3 L297.2,243.2 L302.3,243.2 L307.4,243.1 L312.5,243.1 L317.6,243.0 L322.7,243.0 L327.8,242.9 L332.9,242.9 L338.1,242.8 L343.2,242.7 L348.3,242.7 L353.4,242.6 L358.5,242.5 L363.6,242.5 L368.7,242.4 L373.9,242.3 L379.0,242.2 L384.1,242.2 L389.2,242.1 L394.3,242.0 L399.4,241.9 L404.5,241.8 L409.6,241.7 L414.8,241.6 L419.9,241.6 L425.0,241.5 L430.1,241.4 L435.2,241.3 M271.6,269.2 L276.7,269.3 L281.8,269.4 L286.9,269.5 L292.1,269.6 L297.2,269.7 L302.3,269.8 L307.4,269.9 L312.5,270.0 L317.6,270.2 L322.7,270.3 L327.8,270.5 L332.9,270.6 L338.1,270.8 L343.2,271.0 L348.3,271.2 L353.4,271.4 L358.5,271.6 L363.6,271.9 L368.7,272.1 L373.9,272.4 L379.0,272.7 L384.1,273.0 L389.2,273.3 L394.3,273.6 L399.4,274.0 L404.5,274.3 L409.6,274.6 L414.8,275.0 L419.9,275.3 L425.0,275.7 L430.1,276.0 L435.2,276.4 M271.6,274.0 L276.7,274.1 L281.8,274.2 L286.9,274.4 L292.1,274.5 L297.2,274.6 L302.3,274.8 L307.4,274.9 L312.5,275.0 L317.6,275.1 L322.7,275.2 L327.8,275.4 L332.9,275.5 L338.1,275.6 L343.2,275.8 L348.3,275.9 L353.4,276.0 L358.5,276.1 L363.6,276.2 L368.7,276.4 L373.9,276.5 L379.0,276.6 L384.1,276.8 L389.2,276.9 L394.3,277.0 L399.4,277.1 L404.5,277.2 L409.6,277.4 L414.8,277.5 L419.9,277.6 L425.0,277.8 L430.1,277.9 L435.2,278.0 M271.6,279.6 L276.7,280.0 L281.8,280.4 L286.9,280.9 L292.1,281.3 L297.2,281.7 L302.3,282.1 L307.4,282.4 L312.5,282.8 L317.6,283.1 L322.7,283.5 L327.8,283.8 L332.9,284.0 L338.1,284.3 L343.2,284.5 L348.3,284.7 L353.4,284.8 L358.5,284.9 L363.6,285.0 L368.7,285.0 L373.9,285.0 L379.0,285.0 L384.1,284.9 L389.2,284.9 L394.3,284.8 L399.4,284.6 L404.5,284.5 L409.6,284.4 L414.8,284.2 L419.9,284.0 L425.0,283.9 L430.1,283.7 L435.2,283.5 M271.6,279.6 L276.7,280.3 L281.8,280.9 L286.9,281.6 L292.1,282.2 L297.2,282.9 L302.3,283.5 L307.4,284.1 L312.5,284.7 L317.6,285.3 L322.7,285.9 L327.8,286.5 L332.9,287.0 L338.1,287.6 L343.2,288.1 L348.3,288.5 L353.4,289.0 L358.5,289.4 L363.6,289.8 L368.7,290.2 L373.9,290.6 L379.0,290.9 L384.1,291.2 L389.2,291.5 L394.3,291.8 L399.4,292.1 L404.5,292.4 L409.6,292.6 L414.8,292.9 L419.9,293.1 L425.0,293.3 L430.1,293.6 L435.2,293.8 M271.6,294.5 L276.7,294.9 L281.8,295.2 L286.9,295.5 L292.1,295.9 L297.2,296.2 L302.3,296.5 L307.4,296.7 L312.5,297.0 L317.6,297.1 L322.7,297.3 L327.8,297.4 L332.9,297.5 L338.1,297.5 L343.2,297.4 L348.3,297.3 L353.4,297.1 L358.5,296.8 L363.6,296.5 L368.7,296.1 L373.9,295.7 L379.0,295.2 L384.1,294.6 L389.2,294.0 L394.3,293.4 L399.4,292.7 L404.5,292.0 L409.6,291.3 L414.8,290.5 L419.9,289.8 L425.0,289.0 L430.1,288.2 L435.2,287.4 M271.6,301.2 L276.7,301.1 L281.8,301.0 L286.9,301.0 L292.1,300.9 L297.2,300.8 L302.3,300.7 L307.4,300.7 L312.5,300.6 L317.6,300.5 L322.7,300.5 L327.8,300.4 L332.9,300.4 L338.1,300.4 L343.2,300.3 L348.3,300.3 L353.4,300.3 L358.5,300.3 L363.6,300.3 L368.7,300.3 L373.9,300.3 L379.0,300.4 L384.1,300.4 L389.2,300.5 L394.3,300.5 L399.4,300.6 L404.5,300.6 L409.6,300.7 L414.8,300.7 L419.9,300.8 L425.0,300.9 L430.1,300.9 L435.2,301.0" stroke="#2828e6" stroke-width="1.75" stroke-dasharray="2.5 1.6"/>
</g>
<rect x="271.6" y="30.2" width="163.59999999999997" height="274.3" fill="none" stroke="#555" stroke-width="1.1"/>
<path d="M270.30,304.63H271.60M435.20,304.63H436.50M269.00,295.77H271.60M435.20,295.77H437.80M270.30,286.92H271.60M435.20,286.92H436.50M270.30,278.06H271.60M435.20,278.06H436.50M270.30,269.20H271.60M435.20,269.20H436.50M269.00,260.35H271.60M435.20,260.35H437.80M270.30,251.49H271.60M435.20,251.49H436.50M270.30,242.64H271.60M435.20,242.64H436.50M270.30,233.78H271.60M435.20,233.78H436.50M269.00,224.92H271.60M435.20,224.92H437.80M270.30,216.07H271.60M435.20,216.07H436.50M270.30,207.21H271.60M435.20,207.21H436.50M270.30,198.36H271.60M435.20,198.36H436.50M269.00,189.50H271.60M435.20,189.50H437.80M270.30,180.64H271.60M435.20,180.64H436.50M270.30,171.79H271.60M435.20,171.79H436.50M270.30,162.93H271.60M435.20,162.93H436.50M269.00,154.08H271.60M435.20,154.08H437.80M270.30,145.22H271.60M435.20,145.22H436.50M270.30,136.36H271.60M435.20,136.36H436.50M270.30,127.51H271.60M435.20,127.51H436.50M269.00,118.65H271.60M435.20,118.65H437.80M270.30,109.80H271.60M435.20,109.80H436.50M270.30,100.94H271.60M435.20,100.94H436.50M270.30,92.08H271.60M435.20,92.08H436.50M269.00,83.23H271.60M435.20,83.23H437.80M270.30,74.37H271.60M435.20,74.37H436.50M270.30,65.52H271.60M435.20,65.52H436.50M270.30,56.66H271.60M435.20,56.66H436.50M269.00,47.80H271.60M435.20,47.80H437.80M270.30,38.95H271.60M435.20,38.95H436.50M270.30,30.09H271.60M435.20,30.09H436.50" stroke="#333" stroke-width="1"/>
<text x="267.2" y="300.7" font-size="15.6" text-anchor="end" fill="#111">-1.2</text>
<text x="267.2" y="265.2" font-size="15.6" text-anchor="end" fill="#111">-0.8</text>
<text x="267.2" y="229.8" font-size="15.6" text-anchor="end" fill="#111">-0.4</text>
<text x="267.2" y="194.4" font-size="15.6" text-anchor="end" fill="#111">0</text>
<text x="267.2" y="159.0" font-size="15.6" text-anchor="end" fill="#111">0.4</text>
<text x="267.2" y="123.6" font-size="15.6" text-anchor="end" fill="#111">0.8</text>
<text x="267.2" y="88.1" font-size="15.6" text-anchor="end" fill="#111">1.2</text>
<text x="267.2" y="52.7" font-size="15.6" text-anchor="end" fill="#111">1.6</text>
<path d="M269.60,322.8 V311.8 H276.70" fill="none" stroke="#111" stroke-width="1.5"/>
<text x="433.9" y="321.8" font-size="16" text-anchor="middle" fill="#111">Y</text>
<text x="350" y="23.8" font-size="18.5" font-weight="bold" text-anchor="middle" fill="#111">Fe</text>
<text x="240.8" y="16.9" font-size="22" fill="#222">(b)</text>
<clipPath id="clipc"><rect x="493.8" y="30.2" width="163.7" height="274.3"/></clipPath>
<line x1="493.8" y1="189.50" x2="657.5" y2="189.50" stroke="#999" stroke-width="1.3"/>
<g clip-path="url(#clipc)" fill="none">
<path d="M493.8,30.7 L498.9,30.7 L504.0,30.6 L509.1,30.6 L514.3,30.6 L519.4,30.5 L524.5,30.5 L529.6,30.5 L534.7,30.4 L539.8,30.4 L545.0,30.4 L550.1,30.3 L555.2,30.3 L560.3,30.3 L565.4,30.3 L570.5,30.3 L575.6,30.3 L580.8,30.2 L585.9,30.2 L591.0,30.2 L596.1,30.2 L601.2,30.2 L606.3,30.2 L611.5,30.2 L616.6,30.2 L621.7,30.2 L626.8,30.2 L631.9,30.2 L637.0,30.2 L642.2,30.2 L647.3,30.2 L652.4,30.2 L657.5,30.2 M493.8,32.7 L498.9,32.6 L504.0,32.5 L509.1,32.4 L514.3,32.3 L519.4,32.2 L524.5,32.1 L529.6,32.0 L534.7,31.9 L539.8,31.8 L545.0,31.7 L550.1,31.7 L555.2,31.6 L560.3,31.5 L565.4,31.4 L570.5,31.4 L575.6,31.3 L580.8,31.2 L585.9,31.2 L591.0,31.1 L596.1,31.1 L601.2,31.1 L606.3,31.0 L611.5,31.0 L616.6,31.0 L621.7,31.0 L626.8,30.9 L631.9,30.9 L637.0,30.9 L642.2,30.9 L647.3,30.9 L652.4,30.9 L657.5,30.9 M493.8,34.7 L498.9,34.6 L504.0,34.5 L509.1,34.4 L514.3,34.2 L519.4,34.1 L524.5,34.0 L529.6,33.9 L534.7,33.8 L539.8,33.7 L545.0,33.5 L550.1,33.4 L555.2,33.3 L560.3,33.2 L565.4,33.1 L570.5,33.0 L575.6,32.8 L580.8,32.7 L585.9,32.6 L591.0,32.5 L596.1,32.4 L601.2,32.3 L606.3,32.3 L611.5,32.2 L616.6,32.1 L621.7,32.1 L626.8,32.1 L631.9,32.0 L637.0,32.0 L642.2,32.0 L647.3,32.0 L652.4,32.0 L657.5,32.0 M493.8,38.1 L498.9,37.8 L504.0,37.6 L509.1,37.3 L514.3,37.1 L519.4,36.8 L524.5,36.6 L529.6,36.3 L534.7,36.1 L539.8,35.9 L545.0,35.6 L550.1,35.4 L555.2,35.2 L560.3,35.0 L565.4,34.8 L570.5,34.6 L575.6,34.4 L580.8,34.3 L585.9,34.1 L591.0,34.0 L596.1,33.9 L601.2,33.8 L606.3,33.7 L611.5,33.6 L616.6,33.5 L621.7,33.5 L626.8,33.5 L631.9,33.5 L637.0,33.5 L642.2,33.5 L647.3,33.5 L652.4,33.5 L657.5,33.5 M493.8,40.1 L498.9,39.8 L504.0,39.5 L509.1,39.2 L514.3,38.9 L519.4,38.6 L524.5,38.3 L529.6,38.0 L534.7,37.7 L539.8,37.5 L545.0,37.2 L550.1,37.0 L555.2,36.7 L560.3,36.5 L565.4,36.3 L570.5,36.1 L575.6,35.9 L580.8,35.7 L585.9,35.6 L591.0,35.4 L596.1,35.3 L601.2,35.2 L606.3,35.1 L611.5,35.0 L616.6,34.9 L621.7,34.9 L626.8,34.8 L631.9,34.8 L637.0,34.8 L642.2,34.7 L647.3,34.7 L652.4,34.7 L657.5,34.7 M493.8,41.5 L498.9,41.3 L504.0,41.1 L509.1,40.8 L514.3,40.6 L519.4,40.4 L524.5,40.2 L529.6,40.0 L534.7,39.7 L539.8,39.5 L545.0,39.2 L550.1,39.0 L555.2,38.7 L560.3,38.5 L565.4,38.2 L570.5,38.0 L575.6,37.7 L580.8,37.4 L585.9,37.2 L591.0,36.9 L596.1,36.7 L601.2,36.5 L606.3,36.3 L611.5,36.2 L616.6,36.1 L621.7,36.0 L626.8,36.0 L631.9,35.9 L637.0,35.9 L642.2,35.9 L647.3,35.9 L652.4,36.0 L657.5,36.0 M493.8,44.2 L498.9,44.0 L504.0,43.8 L509.1,43.6 L514.3,43.4 L519.4,43.2 L524.5,43.0 L529.6,42.7 L534.7,42.5 L539.8,42.2 L545.0,42.0 L550.1,41.7 L555.2,41.3 L560.3,41.0 L565.4,40.6 L570.5,40.2 L575.6,39.8 L580.8,39.4 L585.9,39.1 L591.0,38.7 L596.1,38.3 L601.2,38.0 L606.3,37.7 L611.5,37.5 L616.6,37.3 L621.7,37.2 L626.8,37.1 L631.9,37.1 L637.0,37.1 L642.2,37.1 L647.3,37.1 L652.4,37.2 L657.5,37.2 M493.8,47.5 L498.9,47.4 L504.0,47.3 L509.1,47.2 L514.3,47.0 L519.4,46.9 L524.5,46.7 L529.6,46.5 L534.7,46.2 L539.8,45.9 L545.0,45.6 L550.1,45.2 L555.2,44.8 L560.3,44.3 L565.4,43.7 L570.5,43.1 L575.6,42.5 L580.8,41.8 L585.9,41.2 L591.0,40.5 L596.1,39.9 L601.2,39.4 L606.3,38.9 L611.5,38.5 L616.6,38.2 L621.7,38.0 L626.8,37.9 L631.9,37.9 L637.0,37.9 L642.2,38.0 L647.3,38.0 L652.4,38.2 L657.5,38.3 M493.8,52.2 L498.9,51.9 L504.0,51.6 L509.1,51.4 L514.3,51.1 L519.4,50.8 L524.5,50.4 L529.6,50.1 L534.7,49.7 L539.8,49.3 L545.0,48.9 L550.1,48.5 L555.2,48.0 L560.3,47.5 L565.4,46.9 L570.5,46.3 L575.6,45.7 L580.8,45.1 L585.9,44.5 L591.0,43.9 L596.1,43.3 L601.2,42.8 L606.3,42.3 L611.5,41.8 L616.6,41.4 L621.7,41.1 L626.8,40.8 L631.9,40.6 L637.0,40.4 L642.2,40.2 L647.3,40.1 L652.4,39.9 L657.5,39.8 M493.8,54.9 L498.9,54.6 L504.0,54.3 L509.1,53.9 L514.3,53.6 L519.4,53.3 L524.5,53.0 L529.6,52.7 L534.7,52.4 L539.8,52.1 L545.0,51.8 L550.1,51.5 L555.2,51.2 L560.3,50.9 L565.4,50.6 L570.5,50.3 L575.6,50.0 L580.8,49.7 L585.9,49.3 L591.0,48.9 L596.1,48.4 L601.2,47.8 L606.3,47.1 L611.5,46.3 L616.6,45.5 L621.7,44.5 L626.8,43.6 L631.9,42.7 L637.0,41.8 L642.2,41.2 L647.3,40.7 L652.4,40.5 L657.5,40.3 M493.8,56.3 L498.9,56.1 L504.0,55.9 L509.1,55.6 L514.3,55.4 L519.4,55.2 L524.5,54.9 L529.6,54.7 L534.7,54.5 L539.8,54.2 L545.0,54.0 L550.1,53.8 L555.2,53.5 L560.3,53.3 L565.4,53.0 L570.5,52.8 L575.6,52.5 L580.8,52.3 L585.9,52.0 L591.0,51.7 L596.1,51.4 L601.2,51.0 L606.3,50.7 L611.5,50.3 L616.6,49.9 L621.7,49.5 L626.8,49.1 L631.9,48.6 L637.0,48.1 L642.2,47.7 L647.3,47.2 L652.4,46.7 L657.5,46.2 M493.8,61.0 L498.9,60.8 L504.0,60.6 L509.1,60.4 L514.3,60.2 L519.4,60.0 L524.5,59.8 L529.6,59.5 L534.7,59.2 L539.8,58.9 L545.0,58.6 L550.1,58.3 L555.2,57.9 L560.3,57.5 L565.4,57.0 L570.5,56.6 L575.6,56.2 L580.8,55.9 L585.9,55.8 L591.0,55.7 L596.1,55.8 L601.2,56.0 L606.3,56.3 L611.5,56.5 L616.6,56.7 L621.7,56.9 L626.8,57.1 L631.9,57.3 L637.0,57.4 L642.2,57.6 L647.3,57.7 L652.4,57.9 L657.5,58.0 M493.8,63.3 L498.9,63.2 L504.0,63.0 L509.1,62.9 L514.3,62.7 L519.4,62.6 L524.5,62.4 L529.6,62.2 L534.7,62.0 L539.8,61.8 L545.0,61.6 L550.1,61.3 L555.2,61.1 L560.3,60.8 L565.4,60.5 L570.5,60.2 L575.6,59.9 L580.8,59.6 L585.9,59.4 L591.0,59.3 L596.1,59.3 L601.2,59.3 L606.3,59.3 L611.5,59.5 L616.6,59.6 L621.7,59.8 L626.8,60.1 L631.9,60.3 L637.0,60.6 L642.2,61.0 L647.3,61.3 L652.4,61.6 L657.5,62.0 M493.8,67.0 L498.9,66.9 L504.0,66.9 L509.1,66.8 L514.3,66.7 L519.4,66.5 L524.5,66.3 L529.6,66.0 L534.7,65.7 L539.8,65.3 L545.0,64.8 L550.1,64.2 L555.2,63.7 L560.3,63.2 L565.4,62.8 L570.5,62.6 L575.6,62.5 L580.8,62.5 L585.9,62.5 L591.0,62.6 L596.1,62.7 L601.2,62.8 L606.3,63.0 L611.5,63.2 L616.6,63.5 L621.7,63.7 L626.8,64.0 L631.9,64.3 L637.0,64.6 L642.2,65.0 L647.3,65.3 L652.4,65.7 L657.5,66.0 M493.8,78.3 L498.9,78.1 L504.0,77.9 L509.1,77.7 L514.3,77.6 L519.4,77.4 L524.5,77.3 L529.6,77.2 L534.7,77.2 L539.8,77.2 L545.0,77.3 L550.1,77.4 L555.2,77.5 L560.3,77.8 L565.4,78.1 L570.5,78.5 L575.6,79.0 L580.8,79.6 L585.9,80.2 L591.0,80.9 L596.1,81.7 L601.2,82.6 L606.3,83.5 L611.5,84.4 L616.6,85.4 L621.7,86.4 L626.8,87.4 L631.9,88.4 L637.0,89.5 L642.2,90.5 L647.3,91.6 L652.4,92.7 L657.5,93.8 M493.8,88.4 L498.9,88.1 L504.0,87.7 L509.1,87.4 L514.3,87.2 L519.4,86.9 L524.5,86.7 L529.6,86.6 L534.7,86.5 L539.8,86.5 L545.0,86.5 L550.1,86.7 L555.2,86.9 L560.3,87.2 L565.4,87.6 L570.5,88.1 L575.6,88.7 L580.8,89.3 L585.9,90.0 L591.0,90.7 L596.1,91.5 L601.2,92.3 L606.3,93.2 L611.5,94.1 L616.6,95.1 L621.7,96.0 L626.8,97.1 L631.9,98.1 L637.0,99.2 L642.2,100.3 L647.3,101.4 L652.4,102.5 L657.5,103.6 M493.8,111.4 L498.9,111.4 L504.0,111.5 L509.1,111.5 L514.3,111.6 L519.4,111.6 L524.5,111.6 L529.6,111.6 L534.7,111.6 L539.8,111.6 L545.0,111.6 L550.1,111.5 L555.2,111.4 L560.3,111.3 L565.4,111.1 L570.5,110.8 L575.6,110.5 L580.8,110.1 L585.9,109.5 L591.0,108.9 L596.1,108.1 L601.2,107.2 L606.3,106.1 L611.5,104.8 L616.6,103.5 L621.7,102.1 L626.8,100.6 L631.9,99.3 L637.0,98.0 L642.2,96.9 L647.3,95.8 L652.4,94.8 L657.5,93.8 M493.8,120.9 L498.9,120.9 L504.0,120.9 L509.1,120.8 L514.3,120.8 L519.4,120.8 L524.5,120.8 L529.6,120.7 L534.7,120.7 L539.8,120.6 L545.0,120.6 L550.1,120.5 L555.2,120.4 L560.3,120.3 L565.4,120.1 L570.5,119.9 L575.6,119.6 L580.8,119.2 L585.9,118.8 L591.0,118.2 L596.1,117.6 L601.2,116.9 L606.3,116.0 L611.5,115.1 L616.6,114.0 L621.7,112.8 L626.8,111.5 L631.9,110.2 L637.0,108.8 L642.2,107.4 L647.3,106.1 L652.4,104.8 L657.5,103.6 M493.8,125.4 L498.9,125.4 L504.0,125.5 L509.1,125.5 L514.3,125.5 L519.4,125.6 L524.5,125.6 L529.6,125.6 L534.7,125.6 L539.8,125.6 L545.0,125.6 L550.1,125.7 L555.2,125.7 L560.3,125.9 L565.4,126.1 L570.5,126.4 L575.6,126.8 L580.8,127.3 L585.9,128.0 L591.0,128.7 L596.1,129.6 L601.2,130.5 L606.3,131.6 L611.5,132.8 L616.6,134.0 L621.7,135.3 L626.8,136.7 L631.9,138.2 L637.0,139.8 L642.2,141.3 L647.3,142.9 L652.4,144.6 L657.5,146.2 M493.8,134.8 L498.9,134.9 L504.0,134.9 L509.1,134.9 L514.3,135.0 L519.4,135.0 L524.5,135.0 L529.6,135.0 L534.7,135.0 L539.8,135.0 L545.0,134.9 L550.1,134.9 L555.2,135.0 L560.3,135.1 L565.4,135.4 L570.5,135.8 L575.6,136.3 L580.8,137.0 L585.9,137.9 L591.0,138.9 L596.1,140.0 L601.2,141.2 L606.3,142.5 L611.5,143.8 L616.6,145.1 L621.7,146.5 L626.8,147.8 L631.9,149.2 L637.0,150.5 L642.2,151.8 L647.3,153.1 L652.4,154.4 L657.5,155.7 M493.8,160.0 L498.9,160.0 L504.0,159.9 L509.1,159.9 L514.3,159.9 L519.4,159.8 L524.5,159.8 L529.6,159.8 L534.7,159.8 L539.8,159.7 L545.0,159.7 L550.1,159.7 L555.2,159.7 L560.3,159.6 L565.4,159.6 L570.5,159.6 L575.6,159.6 L580.8,159.6 L585.9,159.6 L591.0,159.6 L596.1,159.6 L601.2,159.6 L606.3,159.6 L611.5,159.6 L616.6,159.6 L621.7,159.6 L626.8,159.6 L631.9,159.6 L637.0,159.6 L642.2,159.6 L647.3,159.6 L652.4,159.6 L657.5,159.6 M493.8,165.4 L498.9,165.0 L504.0,164.6 L509.1,164.2 L514.3,163.8 L519.4,163.4 L524.5,163.1 L529.6,162.7 L534.7,162.3 L539.8,162.0 L545.0,161.7 L550.1,161.4 L555.2,161.1 L560.3,160.8 L565.4,160.6 L570.5,160.4 L575.6,160.2 L580.8,160.0 L585.9,159.9 L591.0,159.8 L596.1,159.7 L601.2,159.6 L606.3,159.6 L611.5,159.6 L616.6,159.5 L621.7,159.6 L626.8,159.6 L631.9,159.6 L637.0,159.6 L642.2,159.7 L647.3,159.7 L652.4,159.8 L657.5,159.8 M493.8,167.4 L498.9,167.5 L504.0,167.5 L509.1,167.6 L514.3,167.6 L519.4,167.7 L524.5,167.7 L529.6,167.8 L534.7,167.8 L539.8,167.9 L545.0,167.9 L550.1,168.0 L555.2,168.0 L560.3,168.1 L565.4,168.1 L570.5,168.2 L575.6,168.2 L580.8,168.2 L585.9,168.3 L591.0,168.3 L596.1,168.3 L601.2,168.4 L606.3,168.4 L611.5,168.4 L616.6,168.5 L621.7,168.5 L626.8,168.5 L631.9,168.6 L637.0,168.6 L642.2,168.6 L647.3,168.6 L652.4,168.7 L657.5,168.7 M493.8,169.3 L498.9,169.3 L504.0,169.2 L509.1,169.2 L514.3,169.2 L519.4,169.2 L524.5,169.1 L529.6,169.1 L534.7,169.1 L539.8,169.1 L545.0,169.1 L550.1,169.0 L555.2,169.0 L560.3,169.0 L565.4,169.0 L570.5,169.0 L575.6,169.0 L580.8,169.0 L585.9,169.0 L591.0,169.0 L596.1,169.0 L601.2,169.0 L606.3,169.1 L611.5,169.1 L616.6,169.1 L621.7,169.1 L626.8,169.1 L631.9,169.2 L637.0,169.2 L642.2,169.2 L647.3,169.2 L652.4,169.3 L657.5,169.3 M493.8,171.9 L498.9,172.0 L504.0,172.2 L509.1,172.3 L514.3,172.4 L519.4,172.6 L524.5,172.7 L529.6,172.8 L534.7,173.0 L539.8,173.1 L545.0,173.2 L550.1,173.3 L555.2,173.4 L560.3,173.5 L565.4,173.6 L570.5,173.7 L575.6,173.8 L580.8,173.9 L585.9,173.9 L591.0,174.0 L596.1,174.1 L601.2,174.1 L606.3,174.2 L611.5,174.2 L616.6,174.3 L621.7,174.3 L626.8,174.3 L631.9,174.4 L637.0,174.4 L642.2,174.4 L647.3,174.4 L652.4,174.5 L657.5,174.5 M493.8,176.4 L498.9,176.1 L504.0,175.8 L509.1,175.5 L514.3,175.2 L519.4,174.8 L524.5,174.5 L529.6,174.1 L534.7,173.6 L539.8,173.2 L545.0,172.7 L550.1,172.1 L555.2,171.5 L560.3,170.9 L565.4,170.1 L570.5,169.4 L575.6,168.5 L580.8,167.6 L585.9,166.6 L591.0,165.5 L596.1,164.4 L601.2,163.2 L606.3,161.9 L611.5,160.6 L616.6,159.2 L621.7,157.7 L626.8,156.2 L631.9,154.6 L637.0,153.0 L642.2,151.3 L647.3,149.6 L652.4,147.8 L657.5,146.0 M493.8,188.2 L498.9,188.0 L504.0,187.9 L509.1,187.7 L514.3,187.4 L519.4,187.2 L524.5,186.8 L529.6,186.5 L534.7,186.0 L539.8,185.5 L545.0,184.8 L550.1,184.1 L555.2,183.4 L560.3,182.5 L565.4,181.6 L570.5,180.6 L575.6,179.5 L580.8,178.4 L585.9,177.1 L591.0,175.9 L596.1,174.5 L601.2,173.2 L606.3,171.7 L611.5,170.2 L616.6,168.7 L621.7,167.2 L626.8,165.6 L631.9,164.0 L637.0,162.4 L642.2,160.7 L647.3,159.0 L652.4,157.4 L657.5,155.7 M493.8,190.2 L498.9,190.4 L504.0,190.6 L509.1,190.8 L514.3,190.9 L519.4,191.1 L524.5,191.3 L529.6,191.6 L534.7,191.8 L539.8,192.0 L545.0,192.3 L550.1,192.5 L555.2,192.8 L560.3,193.1 L565.4,193.4 L570.5,193.7 L575.6,194.1 L580.8,194.5 L585.9,194.9 L591.0,195.3 L596.1,195.6 L601.2,196.0 L606.3,196.3 L611.5,196.6 L616.6,196.9 L621.7,197.1 L626.8,197.2 L631.9,197.2 L637.0,197.2 L642.2,197.2 L647.3,197.2 L652.4,197.1 L657.5,197.0 M493.8,198.9 L498.9,199.1 L504.0,199.2 L509.1,199.4 L514.3,199.6 L519.4,199.7 L524.5,199.8 L529.6,199.9 L534.7,200.0 L539.8,200.1 L545.0,200.1 L550.1,200.1 L555.2,200.1 L560.3,200.0 L565.4,199.9 L570.5,199.7 L575.6,199.5 L580.8,199.2 L585.9,198.9 L591.0,198.6 L596.1,198.3 L601.2,197.9 L606.3,197.6 L611.5,197.4 L616.6,197.1 L621.7,196.9 L626.8,196.8 L631.9,196.8 L637.0,196.8 L642.2,196.8 L647.3,196.8 L652.4,196.9 L657.5,197.0 M493.8,204.0 L498.9,203.8 L504.0,203.5 L509.1,203.3 L514.3,203.0 L519.4,202.8 L524.5,202.6 L529.6,202.4 L534.7,202.2 L539.8,202.0 L545.0,201.8 L550.1,201.7 L555.2,201.5 L560.3,201.4 L565.4,201.3 L570.5,201.2 L575.6,201.1 L580.8,201.1 L585.9,201.0 L591.0,201.0 L596.1,201.0 L601.2,201.1 L606.3,201.1 L611.5,201.2 L616.6,201.2 L621.7,201.3 L626.8,201.4 L631.9,201.5 L637.0,201.6 L642.2,201.7 L647.3,201.9 L652.4,202.0 L657.5,202.1 M493.8,225.1 L498.9,225.0 L504.0,225.0 L509.1,224.9 L514.3,224.9 L519.4,224.9 L524.5,224.8 L529.6,224.8 L534.7,224.8 L539.8,224.8 L545.0,224.8 L550.1,224.8 L555.2,224.8 L560.3,224.9 L565.4,224.9 L570.5,225.0 L575.6,225.1 L580.8,225.2 L585.9,225.4 L591.0,225.5 L596.1,225.7 L601.2,225.9 L606.3,226.1 L611.5,226.3 L616.6,226.5 L621.7,226.8 L626.8,227.0 L631.9,227.3 L637.0,227.5 L642.2,227.8 L647.3,228.1 L652.4,228.3 L657.5,228.6 M493.8,232.9 L498.9,232.8 L504.0,232.8 L509.1,232.7 L514.3,232.7 L519.4,232.6 L524.5,232.5 L529.6,232.5 L534.7,232.4 L539.8,232.3 L545.0,232.2 L550.1,232.2 L555.2,232.1 L560.3,232.0 L565.4,231.8 L570.5,231.7 L575.6,231.6 L580.8,231.5 L585.9,231.3 L591.0,231.2 L596.1,231.0 L601.2,230.8 L606.3,230.6 L611.5,230.5 L616.6,230.3 L621.7,230.1 L626.8,229.9 L631.9,229.7 L637.0,229.4 L642.2,229.2 L647.3,229.0 L652.4,228.8 L657.5,228.6 M493.8,234.2 L498.9,234.2 L504.0,234.1 L509.1,234.1 L514.3,234.1 L519.4,234.1 L524.5,234.1 L529.6,234.1 L534.7,234.1 L539.8,234.1 L545.0,234.1 L550.1,234.2 L555.2,234.2 L560.3,234.3 L565.4,234.4 L570.5,234.5 L575.6,234.6 L580.8,234.7 L585.9,234.9 L591.0,235.1 L596.1,235.3 L601.2,235.5 L606.3,235.7 L611.5,236.0 L616.6,236.2 L621.7,236.5 L626.8,236.8 L631.9,237.0 L637.0,237.3 L642.2,237.6 L647.3,237.9 L652.4,238.2 L657.5,238.5 M493.8,242.4 L498.9,242.4 L504.0,242.3 L509.1,242.3 L514.3,242.2 L519.4,242.2 L524.5,242.1 L529.6,242.1 L534.7,242.0 L539.8,241.9 L545.0,241.9 L550.1,241.8 L555.2,241.7 L560.3,241.6 L565.4,241.5 L570.5,241.4 L575.6,241.3 L580.8,241.2 L585.9,241.0 L591.0,240.9 L596.1,240.7 L601.2,240.6 L606.3,240.4 L611.5,240.2 L616.6,240.1 L621.7,239.9 L626.8,239.7 L631.9,239.5 L637.0,239.3 L642.2,239.1 L647.3,238.9 L652.4,238.7 L657.5,238.5 M493.8,257.2 L498.9,257.3 L504.0,257.4 L509.1,257.5 L514.3,257.6 L519.4,257.7 L524.5,257.8 L529.6,258.0 L534.7,258.1 L539.8,258.3 L545.0,258.4 L550.1,258.6 L555.2,258.8 L560.3,259.0 L565.4,259.3 L570.5,259.5 L575.6,259.8 L580.8,260.1 L585.9,260.4 L591.0,260.8 L596.1,261.1 L601.2,261.5 L606.3,261.9 L611.5,262.3 L616.6,262.8 L621.7,263.2 L626.8,263.7 L631.9,264.1 L637.0,264.6 L642.2,265.1 L647.3,265.5 L652.4,266.0 L657.5,266.5 M493.8,262.4 L498.9,262.5 L504.0,262.5 L509.1,262.6 L514.3,262.6 L519.4,262.7 L524.5,262.7 L529.6,262.8 L534.7,262.9 L539.8,262.9 L545.0,263.0 L550.1,263.1 L555.2,263.2 L560.3,263.3 L565.4,263.4 L570.5,263.6 L575.6,263.7 L580.8,263.8 L585.9,264.0 L591.0,264.2 L596.1,264.4 L601.2,264.5 L606.3,264.7 L611.5,265.0 L616.6,265.2 L621.7,265.4 L626.8,265.6 L631.9,265.8 L637.0,266.1 L642.2,266.3 L647.3,266.5 L652.4,266.8 L657.5,267.0 M493.8,265.7 L498.9,265.8 L504.0,265.9 L509.1,266.0 L514.3,266.1 L519.4,266.2 L524.5,266.2 L529.6,266.3 L534.7,266.4 L539.8,266.5 L545.0,266.6 L550.1,266.7 L555.2,266.7 L560.3,266.8 L565.4,266.9 L570.5,266.9 L575.6,267.0 L580.8,267.1 L585.9,267.1 L591.0,267.2 L596.1,267.2 L601.2,267.3 L606.3,267.3 L611.5,267.3 L616.6,267.4 L621.7,267.4 L626.8,267.4 L631.9,267.5 L637.0,267.5 L642.2,267.5 L647.3,267.5 L652.4,267.6 L657.5,267.6 M493.8,269.8 L498.9,269.7 L504.0,269.7 L509.1,269.6 L514.3,269.5 L519.4,269.5 L524.5,269.4 L529.6,269.4 L534.7,269.3 L539.8,269.3 L545.0,269.3 L550.1,269.3 L555.2,269.3 L560.3,269.3 L565.4,269.4 L570.5,269.4 L575.6,269.5 L580.8,269.6 L585.9,269.7 L591.0,269.9 L596.1,270.0 L601.2,270.2 L606.3,270.4 L611.5,270.6 L616.6,270.8 L621.7,271.0 L626.8,271.3 L631.9,271.5 L637.0,271.8 L642.2,272.0 L647.3,272.3 L652.4,272.5 L657.5,272.8 M493.8,271.1 L498.9,271.2 L504.0,271.3 L509.1,271.4 L514.3,271.4 L519.4,271.5 L524.5,271.6 L529.6,271.7 L534.7,271.8 L539.8,271.9 L545.0,272.0 L550.1,272.1 L555.2,272.3 L560.3,272.4 L565.4,272.5 L570.5,272.7 L575.6,272.8 L580.8,273.0 L585.9,273.1 L591.0,273.3 L596.1,273.5 L601.2,273.7 L606.3,273.9 L611.5,274.1 L616.6,274.3 L621.7,274.5 L626.8,274.7 L631.9,274.9 L637.0,275.1 L642.2,275.3 L647.3,275.6 L652.4,275.8 L657.5,276.0 M493.8,277.3 L498.9,277.6 L504.0,277.9 L509.1,278.2 L514.3,278.5 L519.4,278.7 L524.5,279.0 L529.6,279.3 L534.7,279.5 L539.8,279.7 L545.0,279.9 L550.1,280.1 L555.2,280.3 L560.3,280.4 L565.4,280.5 L570.5,280.6 L575.6,280.6 L580.8,280.6 L585.9,280.6 L591.0,280.5 L596.1,280.4 L601.2,280.3 L606.3,280.2 L611.5,280.0 L616.6,279.9 L621.7,279.7 L626.8,279.5 L631.9,279.2 L637.0,279.0 L642.2,278.8 L647.3,278.5 L652.4,278.3 L657.5,278.0 M493.8,279.3 L498.9,279.1 L504.0,279.0 L509.1,278.8 L514.3,278.7 L519.4,278.5 L524.5,278.4 L529.6,278.3 L534.7,278.2 L539.8,278.1 L545.0,278.0 L550.1,277.9 L555.2,277.9 L560.3,277.9 L565.4,277.9 L570.5,277.9 L575.6,278.0 L580.8,278.1 L585.9,278.2 L591.0,278.4 L596.1,278.5 L601.2,278.7 L606.3,278.9 L611.5,279.2 L616.6,279.4 L621.7,279.7 L626.8,280.0 L631.9,280.3 L637.0,280.6 L642.2,280.9 L647.3,281.2 L652.4,281.5 L657.5,281.8 M493.8,282.5 L498.9,282.3 L504.0,282.2 L509.1,282.0 L514.3,281.9 L519.4,281.7 L524.5,281.6 L529.6,281.5 L534.7,281.4 L539.8,281.3 L545.0,281.2 L550.1,281.1 L555.2,281.1 L560.3,281.1 L565.4,281.1 L570.5,281.1 L575.6,281.2 L580.8,281.3 L585.9,281.4 L591.0,281.6 L596.1,281.7 L601.2,281.9 L606.3,282.2 L611.5,282.4 L616.6,282.7 L621.7,282.9 L626.8,283.2 L631.9,283.5 L637.0,283.8 L642.2,284.1 L647.3,284.5 L652.4,284.8 L657.5,285.1 M493.8,285.7 L498.9,285.6 L504.0,285.5 L509.1,285.4 L514.3,285.3 L519.4,285.2 L524.5,285.2 L529.6,285.1 L534.7,285.0 L539.8,285.0 L545.0,285.0 L550.1,284.9 L555.2,284.9 L560.3,285.0 L565.4,285.0 L570.5,285.0 L575.6,285.1 L580.8,285.2 L585.9,285.3 L591.0,285.4 L596.1,285.6 L601.2,285.8 L606.3,285.9 L611.5,286.1 L616.6,286.3 L621.7,286.6 L626.8,286.8 L631.9,287.0 L637.0,287.3 L642.2,287.5 L647.3,287.8 L652.4,288.0 L657.5,288.3 M493.8,288.3 L498.9,288.2 L504.0,288.1 L509.1,288.0 L514.3,287.9 L519.4,287.8 L524.5,287.8 L529.6,287.7 L534.7,287.6 L539.8,287.6 L545.0,287.6 L550.1,287.5 L555.2,287.5 L560.3,287.6 L565.4,287.6 L570.5,287.6 L575.6,287.7 L580.8,287.8 L585.9,287.9 L591.0,288.0 L596.1,288.2 L601.2,288.4 L606.3,288.5 L611.5,288.7 L616.6,288.9 L621.7,289.2 L626.8,289.4 L631.9,289.6 L637.0,289.9 L642.2,290.1 L647.3,290.4 L652.4,290.6 L657.5,290.9 M493.8,289.6 L498.9,289.8 L504.0,289.9 L509.1,290.1 L514.3,290.3 L519.4,290.4 L524.5,290.6 L529.6,290.7 L534.7,290.9 L539.8,291.0 L545.0,291.1 L550.1,291.2 L555.2,291.3 L560.3,291.4 L565.4,291.5 L570.5,291.6 L575.6,291.6 L580.8,291.6 L585.9,291.7 L591.0,291.7 L596.1,291.6 L601.2,291.6 L606.3,291.6 L611.5,291.6 L616.6,291.5 L621.7,291.4 L626.8,291.4 L631.9,291.3 L637.0,291.2 L642.2,291.2 L647.3,291.1 L652.4,291.0 L657.5,290.9 M493.8,292.6 L498.9,292.7 L504.0,292.7 L509.1,292.8 L514.3,292.8 L519.4,292.9 L524.5,292.9 L529.6,293.0 L534.7,293.0 L539.8,293.1 L545.0,293.1 L550.1,293.2 L555.2,293.2 L560.3,293.3 L565.4,293.4 L570.5,293.4 L575.6,293.5 L580.8,293.6 L585.9,293.6 L591.0,293.7 L596.1,293.8 L601.2,293.9 L606.3,293.9 L611.5,294.0 L616.6,294.1 L621.7,294.2 L626.8,294.3 L631.9,294.4 L637.0,294.5 L642.2,294.5 L647.3,294.6 L652.4,294.7 L657.5,294.8 M493.8,297.9 L498.9,297.9 L504.0,298.0 L509.1,298.0 L514.3,298.1 L519.4,298.1 L524.5,298.2 L529.6,298.2 L534.7,298.3 L539.8,298.3 L545.0,298.3 L550.1,298.4 L555.2,298.4 L560.3,298.4 L565.4,298.5 L570.5,298.5 L575.6,298.5 L580.8,298.5 L585.9,298.5 L591.0,298.5 L596.1,298.5 L601.2,298.6 L606.3,298.6 L611.5,298.6 L616.6,298.6 L621.7,298.6 L626.8,298.5 L631.9,298.5 L637.0,298.5 L642.2,298.5 L647.3,298.5 L652.4,298.5 L657.5,298.5 M493.8,301.8 L498.9,301.8 L504.0,301.8 L509.1,301.8 L514.3,301.9 L519.4,301.9 L524.5,301.9 L529.6,301.9 L534.7,301.9 L539.8,301.9 L545.0,301.9 L550.1,302.0 L555.2,302.0 L560.3,302.0 L565.4,302.0 L570.5,302.0 L575.6,302.0 L580.8,302.0 L585.9,302.0 L591.0,302.0 L596.1,302.0 L601.2,302.0 L606.3,302.0 L611.5,302.0 L616.6,302.0 L621.7,302.0 L626.8,302.0 L631.9,302.0 L637.0,302.0 L642.2,302.0 L647.3,302.0 L652.4,302.0 L657.5,302.0" stroke="#f01414" stroke-width="1.95"/>
<path d="M493.8,30.7 L498.9,30.7 L504.0,30.6 L509.1,30.6 L514.3,30.6 L519.4,30.5 L524.5,30.5 L529.6,30.5 L534.7,30.4 L539.8,30.4 L545.0,30.4 L550.1,30.3 L555.2,30.3 L560.3,30.3 L565.4,30.3 L570.5,30.3 L575.6,30.3 L580.8,30.2 L585.9,30.2 L591.0,30.2 L596.1,30.2 L601.2,30.2 L606.3,30.2 L611.5,30.2 L616.6,30.2 L621.7,30.2 L626.8,30.2 L631.9,30.2 L637.0,30.2 L642.2,30.2 L647.3,30.2 L652.4,30.2 L657.5,30.2 M493.8,32.7 L498.9,32.6 L504.0,32.5 L509.1,32.4 L514.3,32.3 L519.4,32.2 L524.5,32.1 L529.6,32.0 L534.7,31.9 L539.8,31.8 L545.0,31.7 L550.1,31.7 L555.2,31.6 L560.3,31.5 L565.4,31.4 L570.5,31.4 L575.6,31.3 L580.8,31.2 L585.9,31.2 L591.0,31.1 L596.1,31.1 L601.2,31.1 L606.3,31.0 L611.5,31.0 L616.6,31.0 L621.7,31.0 L626.8,30.9 L631.9,30.9 L637.0,30.9 L642.2,30.9 L647.3,30.9 L652.4,30.9 L657.5,30.9 M493.8,34.7 L498.9,34.6 L504.0,34.5 L509.1,34.4 L514.3,34.2 L519.4,34.1 L524.5,34.0 L529.6,33.9 L534.7,33.8 L539.8,33.7 L545.0,33.5 L550.1,33.4 L555.2,33.3 L560.3,33.2 L565.4,33.1 L570.5,33.0 L575.6,32.8 L580.8,32.7 L585.9,32.6 L591.0,32.5 L596.1,32.4 L601.2,32.3 L606.3,32.3 L611.5,32.2 L616.6,32.1 L621.7,32.1 L626.8,32.1 L631.9,32.0 L637.0,32.0 L642.2,32.0 L647.3,32.0 L652.4,32.0 L657.5,32.0 M493.8,38.1 L498.9,37.8 L504.0,37.6 L509.1,37.3 L514.3,37.1 L519.4,36.8 L524.5,36.6 L529.6,36.3 L534.7,36.1 L539.8,35.9 L545.0,35.6 L550.1,35.4 L555.2,35.2 L560.3,35.0 L565.4,34.8 L570.5,34.6 L575.6,34.4 L580.8,34.3 L585.9,34.1 L591.0,34.0 L596.1,33.9 L601.2,33.8 L606.3,33.7 L611.5,33.6 L616.6,33.5 L621.7,33.5 L626.8,33.5 L631.9,33.5 L637.0,33.5 L642.2,33.5 L647.3,33.5 L652.4,33.5 L657.5,33.5 M493.8,41.5 L498.9,41.3 L504.0,41.1 L509.1,40.8 L514.3,40.6 L519.4,40.4 L524.5,40.2 L529.6,40.0 L534.7,39.7 L539.8,39.5 L545.0,39.2 L550.1,39.0 L555.2,38.7 L560.3,38.5 L565.4,38.2 L570.5,38.0 L575.6,37.7 L580.8,37.4 L585.9,37.2 L591.0,36.9 L596.1,36.7 L601.2,36.5 L606.3,36.3 L611.5,36.2 L616.6,36.1 L621.7,36.0 L626.8,36.0 L631.9,35.9 L637.0,35.9 L642.2,35.9 L647.3,35.9 L652.4,36.0 L657.5,36.0 M493.8,44.2 L498.9,44.0 L504.0,43.8 L509.1,43.6 L514.3,43.4 L519.4,43.2 L524.5,43.0 L529.6,42.7 L534.7,42.5 L539.8,42.2 L545.0,42.0 L550.1,41.7 L555.2,41.3 L560.3,41.0 L565.4,40.6 L570.5,40.2 L575.6,39.8 L580.8,39.4 L585.9,39.1 L591.0,38.7 L596.1,38.3 L601.2,38.0 L606.3,37.7 L611.5,37.5 L616.6,37.3 L621.7,37.2 L626.8,37.1 L631.9,37.1 L637.0,37.1 L642.2,37.1 L647.3,37.1 L652.4,37.2 L657.5,37.2 M493.8,48.9 L498.9,48.7 L504.0,48.6 L509.1,48.4 L514.3,48.2 L519.4,48.0 L524.5,47.7 L529.6,47.5 L534.7,47.2 L539.8,46.8 L545.0,46.4 L550.1,46.0 L555.2,45.5 L560.3,45.0 L565.4,44.4 L570.5,43.7 L575.6,43.1 L580.8,42.4 L585.9,41.7 L591.0,41.1 L596.1,40.4 L601.2,39.9 L606.3,39.4 L611.5,39.0 L616.6,38.7 L621.7,38.5 L626.8,38.4 L631.9,38.4 L637.0,38.4 L642.2,38.4 L647.3,38.5 L652.4,38.7 L657.5,38.8 M493.8,52.2 L498.9,51.9 L504.0,51.6 L509.1,51.4 L514.3,51.1 L519.4,50.8 L524.5,50.4 L529.6,50.1 L534.7,49.7 L539.8,49.3 L545.0,48.9 L550.1,48.5 L555.2,48.0 L560.3,47.5 L565.4,46.9 L570.5,46.3 L575.6,45.7 L580.8,45.1 L585.9,44.5 L591.0,43.9 L596.1,43.3 L601.2,42.8 L606.3,42.3 L611.5,41.8 L616.6,41.4 L621.7,41.1 L626.8,40.8 L631.9,40.6 L637.0,40.4 L642.2,40.2 L647.3,40.1 L652.4,39.9 L657.5,39.8 M493.8,54.9 L498.9,54.6 L504.0,54.3 L509.1,53.9 L514.3,53.6 L519.4,53.3 L524.5,53.0 L529.6,52.7 L534.7,52.4 L539.8,52.1 L545.0,51.8 L550.1,51.5 L555.2,51.2 L560.3,50.9 L565.4,50.6 L570.5,50.3 L575.6,50.0 L580.8,49.7 L585.9,49.3 L591.0,48.9 L596.1,48.4 L601.2,47.8 L606.3,47.1 L611.5,46.3 L616.6,45.5 L621.7,44.5 L626.8,43.6 L631.9,42.7 L637.0,41.8 L642.2,41.2 L647.3,40.7 L652.4,40.5 L657.5,40.3 M493.8,56.3 L498.9,56.1 L504.0,55.9 L509.1,55.6 L514.3,55.4 L519.4,55.2 L524.5,54.9 L529.6,54.7 L534.7,54.5 L539.8,54.2 L545.0,54.0 L550.1,53.8 L555.2,53.5 L560.3,53.3 L565.4,53.0 L570.5,52.8 L575.6,52.5 L580.8,52.3 L585.9,52.0 L591.0,51.7 L596.1,51.4 L601.2,51.0 L606.3,50.7 L611.5,50.3 L616.6,49.9 L621.7,49.5 L626.8,49.1 L631.9,48.6 L637.0,48.1 L642.2,47.7 L647.3,47.2 L652.4,46.7 L657.5,46.2 M493.8,61.0 L498.9,60.8 L504.0,60.6 L509.1,60.4 L514.3,60.2 L519.4,60.0 L524.5,59.8 L529.6,59.5 L534.7,59.2 L539.8,58.9 L545.0,58.6 L550.1,58.3 L555.2,57.9 L560.3,57.5 L565.4,57.0 L570.5,56.6 L575.6,56.2 L580.8,55.9 L585.9,55.8 L591.0,55.7 L596.1,55.8 L601.2,56.0 L606.3,56.3 L611.5,56.5 L616.6,56.7 L621.7,56.9 L626.8,57.1 L631.9,57.3 L637.0,57.4 L642.2,57.6 L647.3,57.7 L652.4,57.9 L657.5,58.0 M493.8,63.3 L498.9,63.2 L504.0,63.0 L509.1,62.9 L514.3,62.7 L519.4,62.6 L524.5,62.4 L529.6,62.2 L534.7,62.0 L539.8,61.8 L545.0,61.6 L550.1,61.3 L555.2,61.1 L560.3,60.8 L565.4,60.5 L570.5,60.2 L575.6,59.9 L580.8,59.6 L585.9,59.4 L591.0,59.3 L596.1,59.3 L601.2,59.3 L606.3,59.3 L611.5,59.5 L616.6,59.6 L621.7,59.8 L626.8,60.1 L631.9,60.3 L637.0,60.6 L642.2,61.0 L647.3,61.3 L652.4,61.6 L657.5,62.0 M493.8,67.0 L498.9,66.9 L504.0,66.9 L509.1,66.8 L514.3,66.7 L519.4,66.5 L524.5,66.3 L529.6,66.0 L534.7,65.7 L539.8,65.3 L545.0,64.8 L550.1,64.2 L555.2,63.7 L560.3,63.2 L565.4,62.8 L570.5,62.6 L575.6,62.5 L580.8,62.5 L585.9,62.5 L591.0,62.6 L596.1,62.7 L601.2,62.8 L606.3,63.0 L611.5,63.2 L616.6,63.5 L621.7,63.7 L626.8,64.0 L631.9,64.3 L637.0,64.6 L642.2,65.0 L647.3,65.3 L652.4,65.7 L657.5,66.0 M493.8,78.3 L498.9,78.1 L504.0,77.9 L509.1,77.7 L514.3,77.6 L519.4,77.4 L524.5,77.3 L529.6,77.2 L534.7,77.2 L539.8,77.2 L545.0,77.3 L550.1,77.4 L555.2,77.5 L560.3,77.8 L565.4,78.1 L570.5,78.5 L575.6,79.0 L580.8,79.6 L585.9,80.2 L591.0,80.9 L596.1,81.7 L601.2,82.6 L606.3,83.5 L611.5,84.4 L616.6,85.4 L621.7,86.4 L626.8,87.4 L631.9,88.4 L637.0,89.5 L642.2,90.5 L647.3,91.6 L652.4,92.7 L657.5,93.8 M493.8,88.4 L498.9,88.1 L504.0,87.7 L509.1,87.4 L514.3,87.2 L519.4,86.9 L524.5,86.7 L529.6,86.6 L534.7,86.5 L539.8,86.5 L545.0,86.5 L550.1,86.7 L555.2,86.9 L560.3,87.2 L565.4,87.6 L570.5,88.1 L575.6,88.7 L580.8,89.3 L585.9,90.0 L591.0,90.7 L596.1,91.5 L601.2,92.3 L606.3,93.2 L611.5,94.1 L616.6,95.1 L621.7,96.0 L626.8,97.1 L631.9,98.1 L637.0,99.2 L642.2,100.3 L647.3,101.4 L652.4,102.5 L657.5,103.6 M493.8,93.5 L498.9,93.5 L504.0,93.5 L509.1,93.5 L514.3,93.6 L519.4,93.6 L524.5,93.6 L529.6,93.6 L534.7,93.6 L539.8,93.6 L545.0,93.6 L550.1,93.6 L555.2,93.6 L560.3,93.6 L565.4,93.5 L570.5,93.5 L575.6,93.5 L580.8,93.5 L585.9,93.4 L591.0,93.4 L596.1,93.3 L601.2,93.3 L606.3,93.2 L611.5,93.2 L616.6,93.1 L621.7,93.1 L626.8,93.0 L631.9,92.9 L637.0,92.9 L642.2,92.8 L647.3,92.7 L652.4,92.7 L657.5,92.6 M493.8,106.2 L498.9,106.1 L504.0,106.0 L509.1,105.8 L514.3,105.7 L519.4,105.6 L524.5,105.5 L529.6,105.4 L534.7,105.2 L539.8,105.1 L545.0,105.0 L550.1,104.9 L555.2,104.8 L560.3,104.7 L565.4,104.7 L570.5,104.6 L575.6,104.5 L580.8,104.4 L585.9,104.4 L591.0,104.3 L596.1,104.3 L601.2,104.2 L606.3,104.2 L611.5,104.2 L616.6,104.1 L621.7,104.1 L626.8,104.1 L631.9,104.1 L637.0,104.1 L642.2,104.0 L647.3,104.0 L652.4,104.0 L657.5,104.0 M493.8,111.4 L498.9,111.4 L504.0,111.5 L509.1,111.5 L514.3,111.6 L519.4,111.6 L524.5,111.6 L529.6,111.6 L534.7,111.6 L539.8,111.6 L545.0,111.6 L550.1,111.5 L555.2,111.4 L560.3,111.3 L565.4,111.1 L570.5,110.8 L575.6,110.5 L580.8,110.1 L585.9,109.5 L591.0,108.9 L596.1,108.1 L601.2,107.2 L606.3,106.1 L611.5,104.8 L616.6,103.5 L621.7,102.1 L626.8,100.6 L631.9,99.3 L637.0,98.0 L642.2,96.9 L647.3,95.8 L652.4,94.8 L657.5,93.8 M493.8,120.9 L498.9,120.9 L504.0,120.9 L509.1,120.8 L514.3,120.8 L519.4,120.8 L524.5,120.8 L529.6,120.7 L534.7,120.7 L539.8,120.6 L545.0,120.6 L550.1,120.5 L555.2,120.4 L560.3,120.3 L565.4,120.1 L570.5,119.9 L575.6,119.6 L580.8,119.2 L585.9,118.8 L591.0,118.2 L596.1,117.6 L601.2,116.9 L606.3,116.0 L611.5,115.1 L616.6,114.0 L621.7,112.8 L626.8,111.5 L631.9,110.2 L637.0,108.8 L642.2,107.4 L647.3,106.1 L652.4,104.8 L657.5,103.6 M493.8,125.4 L498.9,125.4 L504.0,125.5 L509.1,125.5 L514.3,125.5 L519.4,125.6 L524.5,125.6 L529.6,125.6 L534.7,125.6 L539.8,125.6 L545.0,125.6 L550.1,125.7 L555.2,125.7 L560.3,125.9 L565.4,126.1 L570.5,126.4 L575.6,126.8 L580.8,127.3 L585.9,128.0 L591.0,128.7 L596.1,129.6 L601.2,130.5 L606.3,131.6 L611.5,132.8 L616.6,134.0 L621.7,135.3 L626.8,136.7 L631.9,138.2 L637.0,139.8 L642.2,141.3 L647.3,142.9 L652.4,144.6 L657.5,146.2 M493.8,134.8 L498.9,134.6 L504.0,134.5 L509.1,134.3 L514.3,134.1 L519.4,133.9 L524.5,133.8 L529.6,133.6 L534.7,133.4 L539.8,133.2 L545.0,133.1 L550.1,132.9 L555.2,132.7 L560.3,132.5 L565.4,132.3 L570.5,132.1 L575.6,131.9 L580.8,131.7 L585.9,131.5 L591.0,131.3 L596.1,131.1 L601.2,130.8 L606.3,130.6 L611.5,130.4 L616.6,130.2 L621.7,129.9 L626.8,129.7 L631.9,129.5 L637.0,129.2 L642.2,129.0 L647.3,128.8 L652.4,128.5 L657.5,128.3 M493.8,134.8 L498.9,134.9 L504.0,134.9 L509.1,134.9 L514.3,135.0 L519.4,135.0 L524.5,135.0 L529.6,135.0 L534.7,135.0 L539.8,135.0 L545.0,134.9 L550.1,134.9 L555.2,135.0 L560.3,135.1 L565.4,135.4 L570.5,135.8 L575.6,136.3 L580.8,137.0 L585.9,137.9 L591.0,138.9 L596.1,140.0 L601.2,141.2 L606.3,142.5 L611.5,143.8 L616.6,145.1 L621.7,146.5 L626.8,147.8 L631.9,149.2 L637.0,150.5 L642.2,151.8 L647.3,153.1 L652.4,154.4 L657.5,155.7 M493.8,140.0 L498.9,139.7 L504.0,139.5 L509.1,139.2 L514.3,139.0 L519.4,138.7 L524.5,138.5 L529.6,138.2 L534.7,138.0 L539.8,137.8 L545.0,137.5 L550.1,137.3 L555.2,137.1 L560.3,136.9 L565.4,136.7 L570.5,136.6 L575.6,136.4 L580.8,136.3 L585.9,136.1 L591.0,136.0 L596.1,135.9 L601.2,135.8 L606.3,135.7 L611.5,135.6 L616.6,135.5 L621.7,135.5 L626.8,135.4 L631.9,135.3 L637.0,135.3 L642.2,135.2 L647.3,135.2 L652.4,135.1 L657.5,135.1 M493.8,141.0 L498.9,141.1 L504.0,141.2 L509.1,141.3 L514.3,141.4 L519.4,141.5 L524.5,141.6 L529.6,141.7 L534.7,141.8 L539.8,141.8 L545.0,141.9 L550.1,142.0 L555.2,142.1 L560.3,142.1 L565.4,142.2 L570.5,142.2 L575.6,142.3 L580.8,142.3 L585.9,142.4 L591.0,142.4 L596.1,142.4 L601.2,142.5 L606.3,142.5 L611.5,142.5 L616.6,142.5 L621.7,142.5 L626.8,142.5 L631.9,142.5 L637.0,142.5 L642.2,142.5 L647.3,142.5 L652.4,142.5 L657.5,142.5 M493.8,157.9 L498.9,157.9 L504.0,158.0 L509.1,158.0 L514.3,158.0 L519.4,158.1 L524.5,158.1 L529.6,158.1 L534.7,158.1 L539.8,158.2 L545.0,158.2 L550.1,158.2 L555.2,158.2 L560.3,158.3 L565.4,158.3 L570.5,158.3 L575.6,158.3 L580.8,158.3 L585.9,158.3 L591.0,158.3 L596.1,158.3 L601.2,158.3 L606.3,158.3 L611.5,158.3 L616.6,158.3 L621.7,158.3 L626.8,158.3 L631.9,158.3 L637.0,158.3 L642.2,158.3 L647.3,158.3 L652.4,158.3 L657.5,158.3 M493.8,167.4 L498.9,167.5 L504.0,167.5 L509.1,167.6 L514.3,167.6 L519.4,167.7 L524.5,167.7 L529.6,167.8 L534.7,167.8 L539.8,167.9 L545.0,167.9 L550.1,168.0 L555.2,168.0 L560.3,168.1 L565.4,168.1 L570.5,168.2 L575.6,168.2 L580.8,168.2 L585.9,168.3 L591.0,168.3 L596.1,168.3 L601.2,168.4 L606.3,168.4 L611.5,168.4 L616.6,168.5 L621.7,168.5 L626.8,168.5 L631.9,168.6 L637.0,168.6 L642.2,168.6 L647.3,168.6 L652.4,168.7 L657.5,168.7 M493.8,169.3 L498.9,169.3 L504.0,169.2 L509.1,169.2 L514.3,169.2 L519.4,169.2 L524.5,169.1 L529.6,169.1 L534.7,169.1 L539.8,169.1 L545.0,169.1 L550.1,169.0 L555.2,169.0 L560.3,169.0 L565.4,169.0 L570.5,169.0 L575.6,169.0 L580.8,169.0 L585.9,169.0 L591.0,169.0 L596.1,169.0 L601.2,169.0 L606.3,169.1 L611.5,169.1 L616.6,169.1 L621.7,169.1 L626.8,169.1 L631.9,169.2 L637.0,169.2 L642.2,169.2 L647.3,169.2 L652.4,169.3 L657.5,169.3 M493.8,176.4 L498.9,176.1 L504.0,175.8 L509.1,175.5 L514.3,175.2 L519.4,174.8 L524.5,174.5 L529.6,174.1 L534.7,173.6 L539.8,173.2 L545.0,172.7 L550.1,172.1 L555.2,171.5 L560.3,170.9 L565.4,170.1 L570.5,169.4 L575.6,168.5 L580.8,167.6 L585.9,166.6 L591.0,165.5 L596.1,164.4 L601.2,163.2 L606.3,161.9 L611.5,160.6 L616.6,159.2 L621.7,157.7 L626.8,156.2 L631.9,154.6 L637.0,153.0 L642.2,151.3 L647.3,149.6 L652.4,147.8 L657.5,146.0 M493.8,186.3 L498.9,186.1 L504.0,185.8 L509.1,185.5 L514.3,185.3 L519.4,185.0 L524.5,184.6 L529.6,184.3 L534.7,183.9 L539.8,183.4 L545.0,182.9 L550.1,182.4 L555.2,181.8 L560.3,181.1 L565.4,180.3 L570.5,179.5 L575.6,178.6 L580.8,177.6 L585.9,176.5 L591.0,175.4 L596.1,174.1 L601.2,172.8 L606.3,171.5 L611.5,170.0 L616.6,168.6 L621.7,167.1 L626.8,165.5 L631.9,163.9 L637.0,162.3 L642.2,160.7 L647.3,159.0 L652.4,157.4 L657.5,155.7 M493.8,222.1 L498.9,222.2 L504.0,222.2 L509.1,222.3 L514.3,222.3 L519.4,222.4 L524.5,222.5 L529.6,222.6 L534.7,222.7 L539.8,222.8 L545.0,222.9 L550.1,223.0 L555.2,223.1 L560.3,223.3 L565.4,223.4 L570.5,223.6 L575.6,223.8 L580.8,224.0 L585.9,224.2 L591.0,224.5 L596.1,224.7 L601.2,225.0 L606.3,225.3 L611.5,225.6 L616.6,225.9 L621.7,226.2 L626.8,226.6 L631.9,226.9 L637.0,227.2 L642.2,227.6 L647.3,227.9 L652.4,228.3 L657.5,228.6 M493.8,232.9 L498.9,232.8 L504.0,232.8 L509.1,232.7 L514.3,232.7 L519.4,232.6 L524.5,232.5 L529.6,232.5 L534.7,232.4 L539.8,232.3 L545.0,232.2 L550.1,232.2 L555.2,232.1 L560.3,232.0 L565.4,231.8 L570.5,231.7 L575.6,231.6 L580.8,231.5 L585.9,231.3 L591.0,231.2 L596.1,231.0 L601.2,230.8 L606.3,230.6 L611.5,230.5 L616.6,230.3 L621.7,230.1 L626.8,229.9 L631.9,229.7 L637.0,229.4 L642.2,229.2 L647.3,229.0 L652.4,228.8 L657.5,228.6 M493.8,234.2 L498.9,234.2 L504.0,234.1 L509.1,234.1 L514.3,234.1 L519.4,234.1 L524.5,234.1 L529.6,234.1 L534.7,234.1 L539.8,234.1 L545.0,234.1 L550.1,234.2 L555.2,234.2 L560.3,234.3 L565.4,234.4 L570.5,234.5 L575.6,234.6 L580.8,234.7 L585.9,234.9 L591.0,235.1 L596.1,235.3 L601.2,235.5 L606.3,235.7 L611.5,236.0 L616.6,236.2 L621.7,236.5 L626.8,236.8 L631.9,237.0 L637.0,237.3 L642.2,237.6 L647.3,237.9 L652.4,238.2 L657.5,238.5 M493.8,242.4 L498.9,242.4 L504.0,242.3 L509.1,242.3 L514.3,242.2 L519.4,242.2 L524.5,242.1 L529.6,242.1 L534.7,242.0 L539.8,241.9 L545.0,241.9 L550.1,241.8 L555.2,241.7 L560.3,241.6 L565.4,241.5 L570.5,241.4 L575.6,241.3 L580.8,241.2 L585.9,241.0 L591.0,240.9 L596.1,240.7 L601.2,240.6 L606.3,240.4 L611.5,240.2 L616.6,240.1 L621.7,239.9 L626.8,239.7 L631.9,239.5 L637.0,239.3 L642.2,239.1 L647.3,238.9 L652.4,238.7 L657.5,238.5 M493.8,254.0 L498.9,254.0 L504.0,254.1 L509.1,254.1 L514.3,254.1 L519.4,254.2 L524.5,254.3 L529.6,254.4 L534.7,254.5 L539.8,254.6 L545.0,254.7 L550.1,254.9 L555.2,255.1 L560.3,255.4 L565.4,255.6 L570.5,255.9 L575.6,256.3 L580.8,256.7 L585.9,257.1 L591.0,257.6 L596.1,258.1 L601.2,258.7 L606.3,259.2 L611.5,259.8 L616.6,260.5 L621.7,261.1 L626.8,261.8 L631.9,262.4 L637.0,263.1 L642.2,263.8 L647.3,264.6 L652.4,265.3 L657.5,266.0 M493.8,262.4 L498.9,262.5 L504.0,262.5 L509.1,262.6 L514.3,262.6 L519.4,262.7 L524.5,262.7 L529.6,262.8 L534.7,262.9 L539.8,262.9 L545.0,263.0 L550.1,263.1 L555.2,263.2 L560.3,263.3 L565.4,263.4 L570.5,263.6 L575.6,263.7 L580.8,263.8 L585.9,264.0 L591.0,264.2 L596.1,264.4 L601.2,264.5 L606.3,264.7 L611.5,265.0 L616.6,265.2 L621.7,265.4 L626.8,265.6 L631.9,265.8 L637.0,266.1 L642.2,266.3 L647.3,266.5 L652.4,266.8 L657.5,267.0 M493.8,265.7 L498.9,265.8 L504.0,265.9 L509.1,266.0 L514.3,266.1 L519.4,266.2 L524.5,266.2 L529.6,266.3 L534.7,266.4 L539.8,266.5 L545.0,266.6 L550.1,266.7 L555.2,266.7 L560.3,266.8 L565.4,266.9 L570.5,266.9 L575.6,267.0 L580.8,267.1 L585.9,267.1 L591.0,267.2 L596.1,267.2 L601.2,267.3 L606.3,267.3 L611.5,267.3 L616.6,267.4 L621.7,267.4 L626.8,267.4 L631.9,267.5 L637.0,267.5 L642.2,267.5 L647.3,267.5 L652.4,267.6 L657.5,267.6 M493.8,271.1 L498.9,271.2 L504.0,271.3 L509.1,271.4 L514.3,271.4 L519.4,271.5 L524.5,271.6 L529.6,271.7 L534.7,271.8 L539.8,271.9 L545.0,272.0 L550.1,272.1 L555.2,272.3 L560.3,272.4 L565.4,272.5 L570.5,272.7 L575.6,272.8 L580.8,273.0 L585.9,273.1 L591.0,273.3 L596.1,273.5 L601.2,273.7 L606.3,273.9 L611.5,274.1 L616.6,274.3 L621.7,274.5 L626.8,274.7 L631.9,274.9 L637.0,275.1 L642.2,275.3 L647.3,275.6 L652.4,275.8 L657.5,276.0 M493.8,279.3 L498.9,279.1 L504.0,279.0 L509.1,278.8 L514.3,278.7 L519.4,278.5 L524.5,278.4 L529.6,278.3 L534.7,278.2 L539.8,278.1 L545.0,278.0 L550.1,277.9 L555.2,277.9 L560.3,277.9 L565.4,277.9 L570.5,277.9 L575.6,278.0 L580.8,278.1 L585.9,278.2 L591.0,278.4 L596.1,278.5 L601.2,278.7 L606.3,278.9 L611.5,279.2 L616.6,279.4 L621.7,279.7 L626.8,280.0 L631.9,280.3 L637.0,280.6 L642.2,280.9 L647.3,281.2 L652.4,281.5 L657.5,281.8 M493.8,282.5 L498.9,282.3 L504.0,282.2 L509.1,282.0 L514.3,281.9 L519.4,281.7 L524.5,281.6 L529.6,281.5 L534.7,281.4 L539.8,281.3 L545.0,281.2 L550.1,281.1 L555.2,281.1 L560.3,281.1 L565.4,281.1 L570.5,281.1 L575.6,281.2 L580.8,281.3 L585.9,281.4 L591.0,281.6 L596.1,281.7 L601.2,281.9 L606.3,282.2 L611.5,282.4 L616.6,282.7 L621.7,282.9 L626.8,283.2 L631.9,283.5 L637.0,283.8 L642.2,284.1 L647.3,284.5 L652.4,284.8 L657.5,285.1 M493.8,285.7 L498.9,285.6 L504.0,285.5 L509.1,285.4 L514.3,285.3 L519.4,285.2 L524.5,285.2 L529.6,285.1 L534.7,285.0 L539.8,285.0 L545.0,285.0 L550.1,284.9 L555.2,284.9 L560.3,285.0 L565.4,285.0 L570.5,285.0 L575.6,285.1 L580.8,285.2 L585.9,285.3 L591.0,285.4 L596.1,285.6 L601.2,285.8 L606.3,285.9 L611.5,286.1 L616.6,286.3 L621.7,286.6 L626.8,286.8 L631.9,287.0 L637.0,287.3 L642.2,287.5 L647.3,287.8 L652.4,288.0 L657.5,288.3 M493.8,289.6 L498.9,289.8 L504.0,289.9 L509.1,290.1 L514.3,290.3 L519.4,290.4 L524.5,290.6 L529.6,290.7 L534.7,290.9 L539.8,291.0 L545.0,291.1 L550.1,291.2 L555.2,291.3 L560.3,291.4 L565.4,291.5 L570.5,291.6 L575.6,291.6 L580.8,291.6 L585.9,291.7 L591.0,291.7 L596.1,291.6 L601.2,291.6 L606.3,291.6 L611.5,291.6 L616.6,291.5 L621.7,291.4 L626.8,291.4 L631.9,291.3 L637.0,291.2 L642.2,291.2 L647.3,291.1 L652.4,291.0 L657.5,290.9 M493.8,294.0 L498.9,294.1 L504.0,294.3 L509.1,294.4 L514.3,294.5 L519.4,294.6 L524.5,294.7 L529.6,294.9 L534.7,295.0 L539.8,295.1 L545.0,295.1 L550.1,295.2 L555.2,295.3 L560.3,295.4 L565.4,295.4 L570.5,295.5 L575.6,295.5 L580.8,295.5 L585.9,295.5 L591.0,295.5 L596.1,295.5 L601.2,295.5 L606.3,295.4 L611.5,295.4 L616.6,295.4 L621.7,295.3 L626.8,295.2 L631.9,295.2 L637.0,295.1 L642.2,295.0 L647.3,295.0 L652.4,294.9 L657.5,294.8 M493.8,297.9 L498.9,297.9 L504.0,298.0 L509.1,298.0 L514.3,298.1 L519.4,298.1 L524.5,298.2 L529.6,298.2 L534.7,298.3 L539.8,298.3 L545.0,298.3 L550.1,298.4 L555.2,298.4 L560.3,298.4 L565.4,298.5 L570.5,298.5 L575.6,298.5 L580.8,298.5 L585.9,298.5 L591.0,298.5 L596.1,298.5 L601.2,298.6 L606.3,298.6 L611.5,298.6 L616.6,298.6 L621.7,298.6 L626.8,298.5 L631.9,298.5 L637.0,298.5 L642.2,298.5 L647.3,298.5 L652.4,298.5 L657.5,298.5 M493.8,301.8 L498.9,301.8 L504.0,301.8 L509.1,301.8 L514.3,301.9 L519.4,301.9 L524.5,301.9 L529.6,301.9 L534.7,301.9 L539.8,301.9 L545.0,301.9 L550.1,302.0 L555.2,302.0 L560.3,302.0 L565.4,302.0 L570.5,302.0 L575.6,302.0 L580.8,302.0 L585.9,302.0 L591.0,302.0 L596.1,302.0 L601.2,302.0 L606.3,302.0 L611.5,302.0 L616.6,302.0 L621.7,302.0 L626.8,302.0 L631.9,302.0 L637.0,302.0 L642.2,302.0 L647.3,302.0 L652.4,302.0 L657.5,302.0" stroke="#2828e6" stroke-width="1.75" stroke-dasharray="2.5 1.6"/>
</g>
<rect x="493.8" y="30.2" width="163.7" height="274.3" fill="none" stroke="#555" stroke-width="1.1"/>
<path d="M492.50,304.63H493.80M657.50,304.63H658.80M491.20,295.77H493.80M657.50,295.77H660.10M492.50,286.92H493.80M657.50,286.92H658.80M492.50,278.06H493.80M657.50,278.06H658.80M492.50,269.20H493.80M657.50,269.20H658.80M491.20,260.35H493.80M657.50,260.35H660.10M492.50,251.49H493.80M657.50,251.49H658.80M492.50,242.64H493.80M657.50,242.64H658.80M492.50,233.78H493.80M657.50,233.78H658.80M491.20,224.92H493.80M657.50,224.92H660.10M492.50,216.07H493.80M657.50,216.07H658.80M492.50,207.21H493.80M657.50,207.21H658.80M492.50,198.36H493.80M657.50,198.36H658.80M491.20,189.50H493.80M657.50,189.50H660.10M492.50,180.64H493.80M657.50,180.64H658.80M492.50,171.79H493.80M657.50,171.79H658.80M492.50,162.93H493.80M657.50,162.93H658.80M491.20,154.08H493.80M657.50,154.08H660.10M492.50,145.22H493.80M657.50,145.22H658.80M492.50,136.36H493.80M657.50,136.36H658.80M492.50,127.51H493.80M657.50,127.51H658.80M491.20,118.65H493.80M657.50,118.65H660.10M492.50,109.80H493.80M657.50,109.80H658.80M492.50,100.94H493.80M657.50,100.94H658.80M492.50,92.08H493.80M657.50,92.08H658.80M491.20,83.23H493.80M657.50,83.23H660.10M492.50,74.37H493.80M657.50,74.37H658.80M492.50,65.52H493.80M657.50,65.52H658.80M492.50,56.66H493.80M657.50,56.66H658.80M491.20,47.80H493.80M657.50,47.80H660.10M492.50,38.95H493.80M657.50,38.95H658.80M492.50,30.09H493.80M657.50,30.09H658.80" stroke="#333" stroke-width="1"/>
<text x="489.4" y="300.7" font-size="15.6" text-anchor="end" fill="#111">-1.2</text>
<text x="489.4" y="265.2" font-size="15.6" text-anchor="end" fill="#111">-0.8</text>
<text x="489.4" y="229.8" font-size="15.6" text-anchor="end" fill="#111">-0.4</text>
<text x="489.4" y="194.4" font-size="15.6" text-anchor="end" fill="#111">0</text>
<text x="489.4" y="159.0" font-size="15.6" text-anchor="end" fill="#111">0.4</text>
<text x="489.4" y="123.6" font-size="15.6" text-anchor="end" fill="#111">0.8</text>
<text x="489.4" y="88.1" font-size="15.6" text-anchor="end" fill="#111">1.2</text>
<text x="489.4" y="52.7" font-size="15.6" text-anchor="end" fill="#111">1.6</text>
<path d="M491.80,322.8 V311.8 H498.90" fill="none" stroke="#111" stroke-width="1.5"/>
<text x="656.2" y="321.8" font-size="16" text-anchor="middle" fill="#111">Y</text>
<text x="574.5" y="23.8" font-size="18.5" font-weight="bold" text-anchor="middle" fill="#111">Co</text>
<text x="463.8" y="16.9" font-size="22" fill="#222">(c)</text>
<text x="54.5" y="214.9" font-size="10.5" fill="#333">majority</text><text x="54.5" y="227.1" font-size="10.5" fill="#333">minority</text><line x1="94.7" y1="211.1" x2="124" y2="211.1" stroke="#f01414" stroke-width="1.4"/><line x1="94.7" y1="223.7" x2="124" y2="223.7" stroke="#2828e6" stroke-width="1.6" stroke-dasharray="4 3.3"/>
<text x="276.7" y="214.9" font-size="10.5" fill="#333">majority</text><text x="276.7" y="227.1" font-size="10.5" fill="#333">minority</text><line x1="317" y1="211.1" x2="346.2" y2="211.1" stroke="#f01414" stroke-width="1.4"/><line x1="317" y1="223.7" x2="346.2" y2="223.7" stroke="#2828e6" stroke-width="1.6" stroke-dasharray="4 3.3"/>
<rect x="583" y="54.5" width="73.9" height="22.3" fill="#fff"/><text x="586" y="64.9" font-size="10.5" fill="#333">majority</text><text x="586" y="76.7" font-size="10.5" fill="#333">minority</text><line x1="626.3" y1="61.1" x2="654.7" y2="61.1" stroke="#f01414" stroke-width="1.4"/><line x1="626.3" y1="73.3" x2="654.7" y2="73.3" stroke="#2828e6" stroke-width="1.6" stroke-dasharray="4 3.3"/>
<text transform="translate(13.4,175.5) rotate(-90)" font-size="15.8" text-anchor="middle" fill="#151515">Energy (eV)</text>
</svg></body></html>
